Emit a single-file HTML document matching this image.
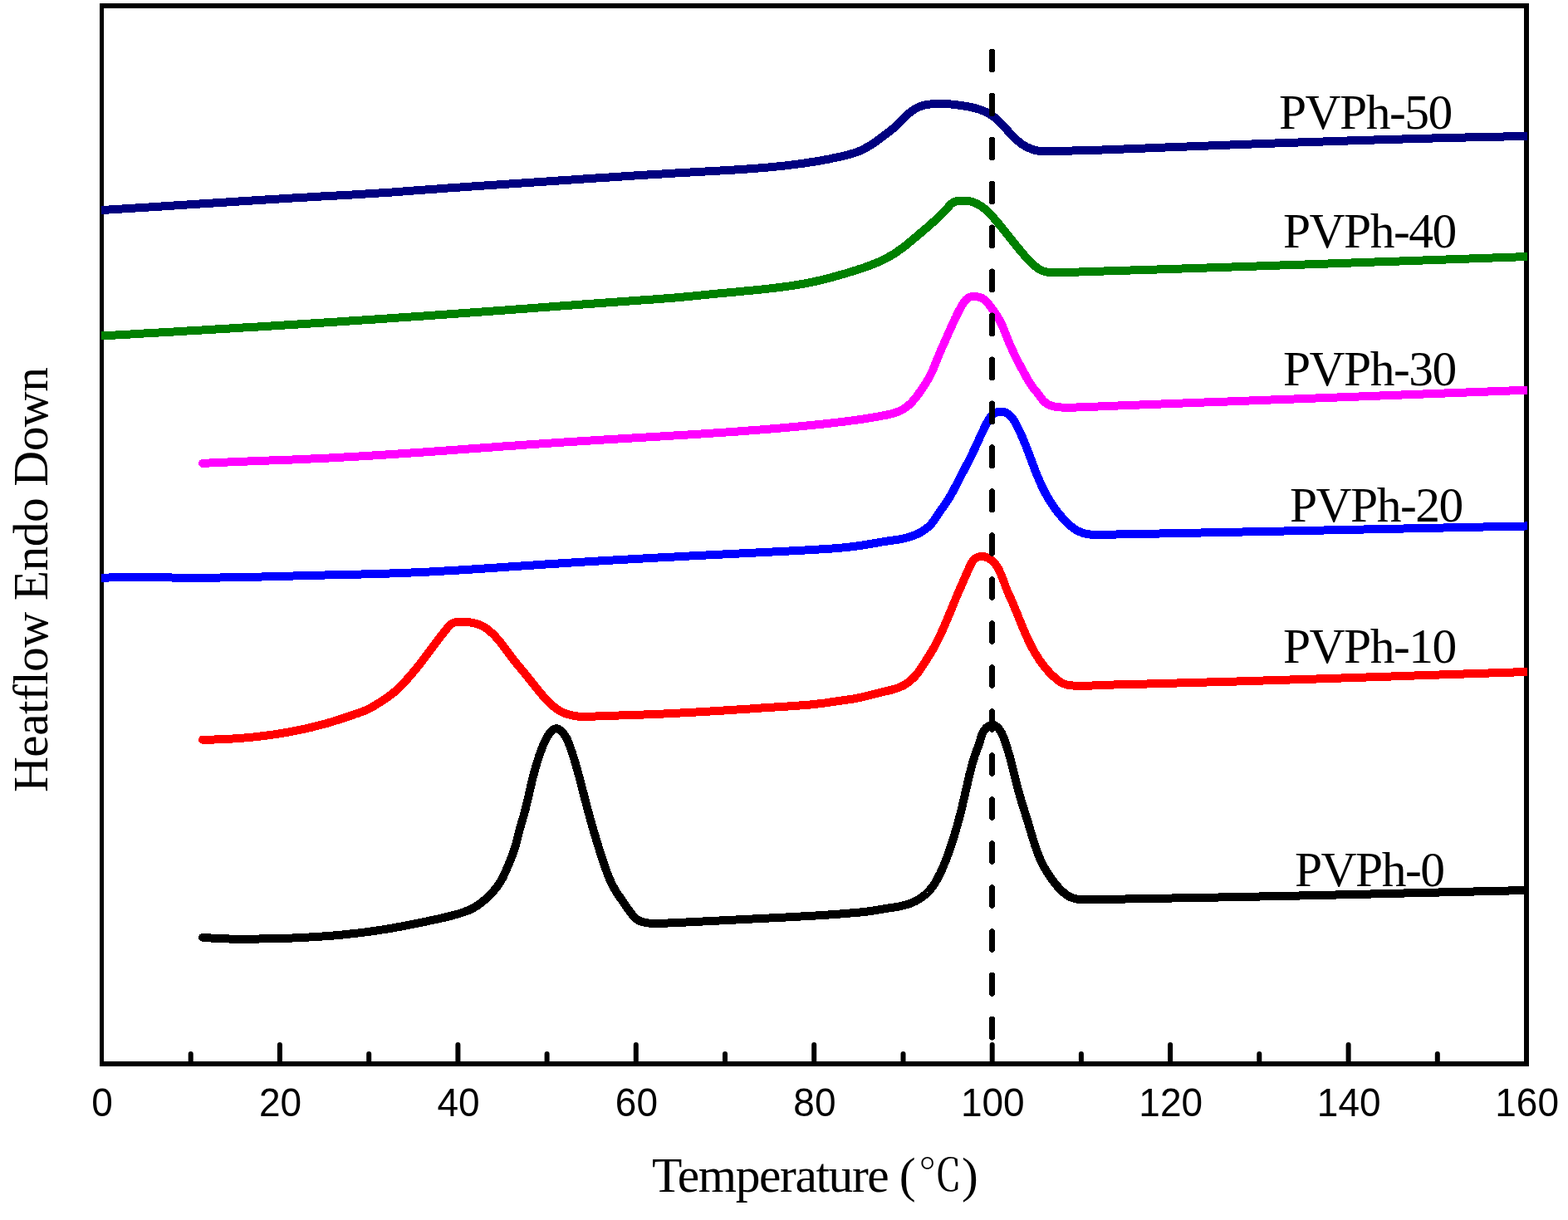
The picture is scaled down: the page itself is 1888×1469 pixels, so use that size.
<!DOCTYPE html>
<html><head><meta charset="utf-8"><style>
html,body{margin:0;padding:0;background:#fff;width:1888px;height:1469px;overflow:hidden}
svg{display:block}
.s{font-family:"Liberation Serif","Noto Serif CJK SC",serif;fill:#000}
.t{font-family:"Liberation Sans",sans-serif;fill:#000;font-size:46px;text-anchor:middle}
</style></head><body>
<svg width="1888" height="1469" viewBox="0 0 1888 1469">
<rect x="0" y="0" width="1888" height="1469" fill="#ffffff"/>
<defs><clipPath id="pc"><rect x="122" y="7" width="1717" height="1274"/></clipPath></defs>
<g fill="#000">
<rect x="120" y="4" width="1721" height="6"/>
<rect x="120" y="1278" width="1721" height="6"/>
<rect x="120" y="4" width="5" height="1280"/>
<rect x="1835" y="4" width="6" height="1280"/>
</g>
<g fill="none" stroke-width="10" stroke-linecap="round" stroke-linejoin="round" clip-path="url(#pc)" shape-rendering="crispEdges">
<path stroke="#000000" d="M244.0,1128.8 L246.0,1128.9 L248.0,1129.1 L250.0,1129.3 L252.0,1129.4 L254.0,1129.5 L256.0,1129.7 L258.0,1129.8 L260.0,1129.9 L262.0,1130.0 L264.0,1130.1 L266.0,1130.2 L268.0,1130.2 L270.0,1130.3 L272.0,1130.4 L274.0,1130.4 L276.0,1130.5 L278.0,1130.5 L280.0,1130.5 L282.0,1130.6 L284.0,1130.6 L286.0,1130.6 L287.9,1130.6 L289.9,1130.6 L291.9,1130.6 L293.9,1130.6 L295.9,1130.6 L297.9,1130.6 L299.9,1130.6 L301.9,1130.6 L303.9,1130.5 L305.9,1130.5 L307.9,1130.5 L309.9,1130.5 L311.9,1130.5 L313.9,1130.4 L315.9,1130.4 L317.9,1130.4 L319.9,1130.3 L321.9,1130.3 L323.9,1130.3 L325.9,1130.2 L327.9,1130.2 L329.9,1130.1 L331.9,1130.1 L333.9,1130.0 L335.9,1130.0 L337.9,1129.9 L339.9,1129.9 L341.9,1129.8 L343.9,1129.7 L345.9,1129.7 L347.9,1129.6 L349.9,1129.5 L351.9,1129.5 L353.9,1129.4 L355.9,1129.3 L357.9,1129.2 L359.9,1129.1 L361.9,1129.0 L363.9,1128.9 L365.9,1128.9 L367.9,1128.8 L369.9,1128.6 L371.9,1128.5 L373.9,1128.4 L375.9,1128.3 L377.9,1128.2 L379.9,1128.1 L381.9,1127.9 L383.9,1127.8 L385.9,1127.7 L387.9,1127.5 L389.9,1127.4 L391.9,1127.3 L393.9,1127.1 L395.9,1127.0 L397.9,1126.8 L399.9,1126.6 L401.8,1126.5 L403.8,1126.3 L405.8,1126.1 L407.8,1125.9 L409.8,1125.8 L411.8,1125.6 L413.8,1125.4 L415.8,1125.2 L417.8,1125.0 L419.8,1124.8 L421.7,1124.5 L423.7,1124.3 L425.7,1124.1 L427.7,1123.9 L429.7,1123.7 L431.7,1123.4 L433.7,1123.2 L435.6,1122.9 L437.6,1122.7 L439.6,1122.4 L441.6,1122.2 L443.6,1121.9 L445.6,1121.6 L447.5,1121.4 L449.5,1121.1 L451.5,1120.8 L453.5,1120.5 L455.5,1120.2 L457.4,1119.9 L459.4,1119.6 L461.4,1119.3 L463.4,1119.0 L465.3,1118.7 L467.3,1118.3 L469.3,1118.0 L471.2,1117.7 L473.2,1117.3 L475.2,1117.0 L477.2,1116.6 L479.1,1116.3 L481.1,1115.9 L483.1,1115.6 L485.0,1115.2 L487.0,1114.8 L489.0,1114.4 L490.9,1114.1 L492.9,1113.7 L494.9,1113.3 L496.8,1112.9 L498.8,1112.5 L500.7,1112.1 L502.7,1111.7 L504.7,1111.3 L506.6,1110.9 L508.6,1110.5 L510.5,1110.1 L512.5,1109.7 L514.4,1109.3 L516.4,1108.8 L518.4,1108.4 L520.3,1108.0 L522.3,1107.6 L524.2,1107.1 L526.2,1106.7 L528.1,1106.3 L530.1,1105.9 L532.0,1105.4 L534.0,1105.0 L535.9,1104.5 L537.9,1104.1 L539.8,1103.6 L541.7,1103.1 L543.7,1102.6 L545.6,1102.1 L547.5,1101.6 L549.5,1101.0 L551.4,1100.5 L553.3,1099.9 L555.2,1099.3 L557.1,1098.7 L559.0,1098.0 L560.9,1097.3 L562.8,1096.6 L564.6,1095.9 L566.5,1095.0 L568.3,1094.2 L570.0,1093.2 L571.8,1092.3 L573.5,1091.2 L575.1,1090.1 L576.8,1089.0 L578.4,1087.8 L580.0,1086.5 L581.5,1085.3 L583.1,1084.0 L584.6,1082.6 L586.1,1081.3 L587.5,1079.9 L589.0,1078.5 L590.4,1077.1 L591.8,1075.6 L593.1,1074.2 L594.4,1072.7 L595.7,1071.1 L597.0,1069.6 L598.2,1068.0 L599.4,1066.4 L600.5,1064.8 L601.6,1063.1 L602.7,1061.4 L603.7,1059.7 L604.7,1058.0 L605.6,1056.2 L606.5,1054.4 L607.3,1052.6 L608.2,1050.8 L609.0,1048.9 L609.8,1047.1 L610.6,1045.2 L611.4,1043.4 L612.2,1041.5 L612.9,1039.7 L613.7,1037.8 L614.5,1036.0 L615.2,1034.1 L615.9,1032.2 L616.7,1030.4 L617.4,1028.5 L618.0,1026.6 L618.7,1024.7 L619.3,1022.8 L619.9,1020.9 L620.5,1019.0 L621.0,1017.1 L621.6,1015.2 L622.1,1013.2 L622.5,1011.3 L623.0,1009.4 L623.5,1007.4 L624.0,1005.5 L624.5,1003.5 L625.0,1001.6 L625.5,999.7 L626.0,997.7 L626.6,995.8 L627.1,993.9 L627.7,992.0 L628.2,990.0 L628.8,988.1 L629.4,986.2 L629.9,984.3 L630.5,982.3 L631.0,980.4 L631.5,978.5 L632.0,976.6 L632.6,974.6 L633.0,972.7 L633.5,970.8 L634.0,968.8 L634.5,966.9 L634.9,964.9 L635.4,963.0 L635.8,961.0 L636.3,959.1 L636.7,957.1 L637.2,955.2 L637.6,953.2 L638.1,951.3 L638.5,949.3 L639.0,947.4 L639.4,945.4 L639.9,943.5 L640.4,941.5 L640.8,939.6 L641.3,937.6 L641.8,935.7 L642.3,933.8 L642.8,931.8 L643.3,929.9 L643.8,928.0 L644.4,926.0 L644.9,924.1 L645.4,922.2 L646.0,920.3 L646.6,918.4 L647.2,916.5 L647.8,914.6 L648.4,912.7 L649.0,910.8 L649.7,908.9 L650.3,907.0 L651.0,905.1 L651.7,903.3 L652.4,901.4 L653.1,899.6 L653.8,897.7 L654.6,895.9 L655.4,894.0 L656.3,892.2 L657.2,890.4 L658.1,888.6 L659.2,886.7 L660.4,884.9 L661.6,883.1 L663.0,881.4 L664.5,879.9 L666.0,878.6 L667.6,877.7 L669.2,877.3 L670.9,877.4 L672.6,878.0 L674.2,879.0 L675.8,880.3 L677.4,881.9 L678.8,883.6 L680.1,885.4 L681.2,887.2 L682.3,889.1 L683.2,890.9 L684.0,892.7 L684.7,894.6 L685.5,896.5 L686.1,898.3 L686.8,900.2 L687.4,902.1 L688.1,904.0 L688.7,905.8 L689.3,907.7 L689.9,909.6 L690.5,911.5 L691.1,913.4 L691.7,915.3 L692.3,917.3 L692.9,919.2 L693.4,921.1 L694.0,923.0 L694.5,924.9 L695.1,926.8 L695.6,928.8 L696.1,930.7 L696.6,932.6 L697.2,934.6 L697.7,936.5 L698.2,938.4 L698.7,940.4 L699.2,942.3 L699.7,944.2 L700.2,946.2 L700.7,948.1 L701.2,950.1 L701.7,952.0 L702.2,953.9 L702.7,955.9 L703.2,957.8 L703.7,959.8 L704.2,961.7 L704.7,963.6 L705.2,965.6 L705.7,967.5 L706.2,969.4 L706.7,971.4 L707.2,973.3 L707.8,975.2 L708.3,977.2 L708.8,979.1 L709.3,981.0 L709.9,982.9 L710.4,984.9 L710.9,986.8 L711.5,988.7 L712.0,990.6 L712.6,992.6 L713.1,994.5 L713.7,996.4 L714.2,998.3 L714.8,1000.2 L715.3,1002.2 L715.9,1004.1 L716.5,1006.0 L717.0,1007.9 L717.6,1009.8 L718.2,1011.7 L718.7,1013.7 L719.3,1015.6 L719.9,1017.5 L720.5,1019.4 L721.1,1021.3 L721.7,1023.2 L722.3,1025.1 L722.9,1027.0 L723.5,1028.9 L724.1,1030.8 L724.7,1032.8 L725.4,1034.7 L726.0,1036.6 L726.6,1038.5 L727.2,1040.4 L727.9,1042.3 L728.5,1044.2 L729.2,1046.1 L729.9,1048.0 L730.6,1049.8 L731.3,1051.7 L732.0,1053.6 L732.8,1055.4 L733.6,1057.3 L734.3,1059.1 L735.2,1060.9 L736.0,1062.7 L736.9,1064.5 L737.8,1066.3 L738.7,1068.1 L739.7,1069.8 L740.7,1071.5 L741.7,1073.2 L742.7,1074.9 L743.8,1076.6 L745.0,1078.3 L746.1,1079.9 L747.2,1081.6 L748.4,1083.2 L749.5,1084.9 L750.7,1086.5 L751.8,1088.1 L753.0,1089.8 L754.1,1091.4 L755.2,1093.1 L756.4,1094.7 L757.5,1096.3 L758.7,1098.0 L760.0,1099.6 L761.2,1101.2 L762.6,1102.8 L763.9,1104.2 L765.4,1105.6 L766.9,1106.9 L768.6,1108.0 L770.3,1108.9 L772.1,1109.6 L774.0,1110.2 L776.0,1110.7 L778.0,1111.1 L780.0,1111.4 L782.0,1111.6 L784.0,1111.8 L786.0,1111.9 L788.0,1111.9 L790.0,1111.9 L792.0,1111.9 L794.0,1111.9 L796.0,1111.8 L798.0,1111.7 L800.0,1111.7 L802.0,1111.6 L804.0,1111.5 L806.0,1111.4 L808.0,1111.3 L810.0,1111.2 L812.0,1111.2 L814.0,1111.1 L816.0,1111.0 L818.0,1110.9 L820.0,1110.8 L822.0,1110.7 L824.0,1110.6 L826.0,1110.5 L828.0,1110.4 L830.0,1110.3 L832.0,1110.2 L834.0,1110.1 L836.0,1110.0 L838.0,1109.9 L840.0,1109.8 L842.0,1109.7 L844.0,1109.6 L846.0,1109.5 L848.0,1109.4 L849.9,1109.3 L851.9,1109.2 L853.9,1109.1 L855.9,1109.0 L857.9,1108.9 L859.9,1108.8 L861.9,1108.7 L863.9,1108.6 L865.9,1108.5 L867.9,1108.4 L869.9,1108.3 L871.9,1108.2 L873.9,1108.1 L875.9,1108.0 L877.9,1107.9 L879.9,1107.8 L881.9,1107.7 L883.9,1107.6 L885.9,1107.5 L887.9,1107.4 L889.9,1107.3 L891.9,1107.2 L893.9,1107.1 L895.9,1107.0 L897.9,1106.9 L899.9,1106.8 L901.9,1106.7 L903.9,1106.6 L905.9,1106.5 L907.9,1106.4 L909.9,1106.3 L911.9,1106.2 L913.9,1106.1 L915.9,1106.0 L917.9,1105.9 L919.9,1105.8 L921.9,1105.7 L923.9,1105.6 L925.9,1105.5 L927.8,1105.4 L929.8,1105.3 L931.8,1105.2 L933.8,1105.1 L935.8,1105.0 L937.8,1104.9 L939.8,1104.8 L941.8,1104.7 L943.8,1104.6 L945.8,1104.5 L947.8,1104.4 L949.8,1104.3 L951.8,1104.2 L953.8,1104.1 L955.8,1104.0 L957.8,1103.9 L959.8,1103.8 L961.8,1103.7 L963.8,1103.5 L965.8,1103.4 L967.8,1103.3 L969.8,1103.2 L971.8,1103.1 L973.8,1103.0 L975.8,1102.9 L977.8,1102.8 L979.8,1102.6 L981.8,1102.5 L983.8,1102.4 L985.8,1102.3 L987.8,1102.2 L989.8,1102.0 L991.7,1101.9 L993.7,1101.8 L995.7,1101.6 L997.7,1101.5 L999.7,1101.4 L1001.7,1101.2 L1003.7,1101.1 L1005.7,1101.0 L1007.7,1100.8 L1009.7,1100.7 L1011.7,1100.5 L1013.7,1100.4 L1015.7,1100.2 L1017.7,1100.0 L1019.7,1099.9 L1021.7,1099.7 L1023.7,1099.5 L1025.6,1099.4 L1027.6,1099.2 L1029.6,1099.0 L1031.6,1098.8 L1033.6,1098.6 L1035.6,1098.5 L1037.6,1098.3 L1039.6,1098.1 L1041.6,1097.8 L1043.6,1097.6 L1045.6,1097.4 L1047.5,1097.1 L1049.5,1096.8 L1051.5,1096.5 L1053.5,1096.2 L1055.4,1095.9 L1057.4,1095.6 L1059.4,1095.2 L1061.3,1094.9 L1063.3,1094.6 L1065.3,1094.2 L1067.3,1093.9 L1069.2,1093.6 L1071.2,1093.3 L1073.2,1093.0 L1075.2,1092.7 L1077.2,1092.3 L1079.1,1092.0 L1081.1,1091.7 L1083.1,1091.3 L1085.0,1090.9 L1087.0,1090.5 L1088.9,1090.0 L1090.9,1089.5 L1092.8,1088.9 L1094.7,1088.3 L1096.5,1087.6 L1098.4,1086.8 L1100.2,1086.0 L1102.0,1085.2 L1103.8,1084.2 L1105.6,1083.2 L1107.3,1082.2 L1108.9,1081.1 L1110.6,1079.9 L1112.2,1078.7 L1113.7,1077.4 L1115.2,1076.1 L1116.7,1074.7 L1118.1,1073.3 L1119.4,1071.8 L1120.7,1070.3 L1122.0,1068.8 L1123.2,1067.2 L1124.3,1065.5 L1125.4,1063.8 L1126.5,1062.1 L1127.5,1060.4 L1128.4,1058.6 L1129.4,1056.9 L1130.3,1055.1 L1131.2,1053.3 L1132.1,1051.5 L1132.9,1049.7 L1133.8,1047.9 L1134.6,1046.0 L1135.4,1044.2 L1136.2,1042.4 L1136.9,1040.5 L1137.7,1038.7 L1138.4,1036.8 L1139.2,1035.0 L1139.9,1033.1 L1140.6,1031.2 L1141.3,1029.4 L1142.0,1027.5 L1142.6,1025.6 L1143.3,1023.7 L1143.9,1021.8 L1144.6,1019.9 L1145.2,1018.0 L1145.8,1016.1 L1146.5,1014.2 L1147.1,1012.3 L1147.7,1010.4 L1148.3,1008.5 L1148.9,1006.6 L1149.5,1004.7 L1150.0,1002.8 L1150.6,1000.9 L1151.2,998.9 L1151.7,997.0 L1152.3,995.1 L1152.8,993.2 L1153.4,991.2 L1153.9,989.3 L1154.4,987.4 L1154.9,985.4 L1155.4,983.5 L1156.0,981.6 L1156.4,979.6 L1156.9,977.7 L1157.4,975.8 L1157.9,973.8 L1158.4,971.9 L1158.8,969.9 L1159.3,968.0 L1159.7,966.0 L1160.2,964.1 L1160.6,962.1 L1161.1,960.2 L1161.5,958.2 L1161.9,956.3 L1162.4,954.3 L1162.8,952.4 L1163.3,950.4 L1163.7,948.5 L1164.2,946.5 L1164.6,944.6 L1165.0,942.7 L1165.5,940.7 L1165.9,938.8 L1166.4,936.8 L1166.9,934.9 L1167.3,932.9 L1167.8,931.0 L1168.3,929.0 L1168.8,927.1 L1169.3,925.1 L1169.8,923.2 L1170.3,921.3 L1170.9,919.3 L1171.4,917.4 L1172.0,915.5 L1172.6,913.6 L1173.2,911.7 L1173.8,909.8 L1174.5,907.9 L1175.1,906.0 L1175.8,904.2 L1176.5,902.3 L1177.2,900.5 L1177.9,898.6 L1178.5,896.7 L1179.2,894.8 L1179.8,892.9 L1180.3,891.0 L1180.9,889.0 L1181.5,887.1 L1182.1,885.2 L1182.9,883.3 L1183.8,881.4 L1185.0,879.5 L1186.3,877.8 L1187.8,876.2 L1189.4,874.8 L1191.1,873.8 L1192.9,873.0 L1194.7,872.7 L1196.4,872.9 L1198.1,873.6 L1199.7,874.7 L1201.3,876.0 L1202.7,877.6 L1204.0,879.4 L1205.2,881.2 L1206.2,883.0 L1207.1,884.9 L1207.9,886.7 L1208.7,888.6 L1209.4,890.5 L1210.0,892.4 L1210.6,894.3 L1211.3,896.2 L1211.9,898.1 L1212.5,900.0 L1213.1,901.9 L1213.6,903.8 L1214.2,905.7 L1214.8,907.6 L1215.3,909.5 L1215.9,911.4 L1216.4,913.4 L1216.9,915.3 L1217.4,917.2 L1217.9,919.1 L1218.4,921.1 L1218.9,923.0 L1219.4,924.9 L1219.9,926.9 L1220.4,928.8 L1220.9,930.8 L1221.4,932.7 L1221.8,934.7 L1222.3,936.6 L1222.8,938.6 L1223.3,940.5 L1223.8,942.5 L1224.3,944.4 L1224.7,946.3 L1225.2,948.3 L1225.8,950.2 L1226.3,952.2 L1226.8,954.1 L1227.3,956.0 L1227.9,957.9 L1228.4,959.9 L1229.0,961.8 L1229.5,963.7 L1230.1,965.6 L1230.7,967.5 L1231.3,969.4 L1231.9,971.3 L1232.5,973.2 L1233.1,975.1 L1233.7,977.0 L1234.3,978.9 L1234.9,980.8 L1235.5,982.7 L1236.1,984.6 L1236.7,986.5 L1237.3,988.4 L1237.9,990.4 L1238.4,992.3 L1239.0,994.2 L1239.6,996.1 L1240.1,998.1 L1240.7,1000.0 L1241.3,1001.9 L1241.8,1003.8 L1242.4,1005.8 L1243.0,1007.7 L1243.6,1009.6 L1244.1,1011.5 L1244.8,1013.4 L1245.4,1015.3 L1246.0,1017.2 L1246.6,1019.1 L1247.3,1021.0 L1247.9,1022.9 L1248.6,1024.8 L1249.3,1026.7 L1250.0,1028.5 L1250.8,1030.4 L1251.5,1032.2 L1252.3,1034.1 L1253.1,1035.9 L1254.0,1037.7 L1254.8,1039.5 L1255.7,1041.3 L1256.6,1043.0 L1257.6,1044.8 L1258.6,1046.5 L1259.6,1048.2 L1260.6,1049.9 L1261.6,1051.6 L1262.7,1053.3 L1263.9,1055.0 L1265.0,1056.6 L1266.2,1058.3 L1267.4,1059.9 L1268.6,1061.5 L1269.8,1063.1 L1271.1,1064.6 L1272.4,1066.2 L1273.7,1067.7 L1275.1,1069.2 L1276.5,1070.7 L1277.9,1072.1 L1279.4,1073.5 L1280.9,1074.9 L1282.4,1076.1 L1284.0,1077.3 L1285.6,1078.4 L1287.3,1079.4 L1289.1,1080.3 L1290.9,1081.0 L1292.8,1081.6 L1294.7,1082.1 L1296.7,1082.5 L1298.7,1082.7 L1300.7,1082.9 L1302.8,1083.0 L1304.8,1083.1 L1306.8,1083.2 L1308.8,1083.2 L1310.8,1083.2 L1312.8,1083.1 L1314.8,1083.1 L1316.8,1083.1 L1318.8,1083.1 L1320.8,1083.0 L1322.8,1083.0 L1324.8,1083.0 L1326.8,1082.9 L1328.8,1082.9 L1330.8,1082.9 L1332.8,1082.8 L1334.8,1082.8 L1336.8,1082.8 L1338.8,1082.7 L1340.8,1082.7 L1342.8,1082.7 L1344.8,1082.6 L1346.8,1082.6 L1348.8,1082.6 L1350.8,1082.5 L1352.8,1082.5 L1354.8,1082.5 L1356.8,1082.4 L1358.8,1082.4 L1360.8,1082.4 L1362.8,1082.3 L1364.8,1082.3 L1366.8,1082.2 L1368.8,1082.2 L1370.8,1082.2 L1372.8,1082.1 L1374.8,1082.1 L1376.8,1082.1 L1378.8,1082.0 L1380.8,1082.0 L1382.8,1082.0 L1384.8,1081.9 L1386.8,1081.9 L1388.8,1081.9 L1390.8,1081.8 L1392.8,1081.8 L1394.8,1081.8 L1396.8,1081.7 L1398.8,1081.7 L1400.8,1081.6 L1402.8,1081.6 L1404.8,1081.6 L1406.8,1081.5 L1408.8,1081.5 L1410.8,1081.5 L1412.8,1081.4 L1414.8,1081.4 L1416.8,1081.4 L1418.8,1081.3 L1420.8,1081.3 L1422.8,1081.3 L1424.8,1081.2 L1426.8,1081.2 L1428.8,1081.1 L1430.8,1081.1 L1432.8,1081.1 L1434.8,1081.0 L1436.8,1081.0 L1438.8,1081.0 L1440.8,1080.9 L1442.8,1080.9 L1444.8,1080.9 L1446.8,1080.8 L1448.8,1080.8 L1450.8,1080.7 L1452.8,1080.7 L1454.8,1080.7 L1456.8,1080.6 L1458.8,1080.6 L1460.8,1080.6 L1462.8,1080.5 L1464.8,1080.5 L1466.8,1080.5 L1468.8,1080.4 L1470.8,1080.4 L1472.8,1080.3 L1474.8,1080.3 L1476.8,1080.3 L1478.8,1080.2 L1480.8,1080.2 L1482.8,1080.1 L1484.7,1080.1 L1486.7,1080.1 L1488.7,1080.0 L1490.7,1080.0 L1492.7,1080.0 L1494.7,1079.9 L1496.7,1079.9 L1498.7,1079.8 L1500.7,1079.8 L1502.7,1079.8 L1504.7,1079.7 L1506.7,1079.7 L1508.7,1079.6 L1510.7,1079.6 L1512.7,1079.6 L1514.7,1079.5 L1516.7,1079.5 L1518.7,1079.4 L1520.7,1079.4 L1522.7,1079.4 L1524.7,1079.3 L1526.7,1079.3 L1528.7,1079.2 L1530.7,1079.2 L1532.7,1079.1 L1534.7,1079.1 L1536.7,1079.1 L1538.7,1079.0 L1540.7,1079.0 L1542.7,1078.9 L1544.7,1078.9 L1546.7,1078.8 L1548.7,1078.8 L1550.7,1078.8 L1552.7,1078.7 L1554.7,1078.7 L1556.7,1078.6 L1558.7,1078.6 L1560.7,1078.5 L1562.7,1078.5 L1564.7,1078.5 L1566.7,1078.4 L1568.7,1078.4 L1570.7,1078.3 L1572.7,1078.3 L1574.7,1078.2 L1576.7,1078.2 L1578.7,1078.1 L1580.7,1078.1 L1582.7,1078.0 L1584.7,1078.0 L1586.7,1078.0 L1588.7,1077.9 L1590.7,1077.9 L1592.7,1077.8 L1594.7,1077.8 L1596.7,1077.7 L1598.7,1077.7 L1600.7,1077.6 L1602.7,1077.6 L1604.7,1077.5 L1606.7,1077.5 L1608.7,1077.5 L1610.7,1077.4 L1612.7,1077.4 L1614.7,1077.3 L1616.7,1077.3 L1618.7,1077.2 L1620.7,1077.2 L1622.7,1077.1 L1624.7,1077.1 L1626.7,1077.0 L1628.7,1077.0 L1630.7,1076.9 L1632.7,1076.9 L1634.7,1076.8 L1636.7,1076.8 L1638.7,1076.7 L1640.7,1076.7 L1642.7,1076.6 L1644.7,1076.6 L1646.7,1076.5 L1648.7,1076.5 L1650.7,1076.5 L1652.7,1076.4 L1654.7,1076.4 L1656.7,1076.3 L1658.7,1076.3 L1660.7,1076.2 L1662.7,1076.2 L1664.7,1076.1 L1666.7,1076.1 L1668.7,1076.0 L1670.7,1076.0 L1672.7,1075.9 L1674.7,1075.9 L1676.7,1075.8 L1678.7,1075.8 L1680.7,1075.7 L1682.7,1075.7 L1684.7,1075.6 L1686.7,1075.6 L1688.7,1075.5 L1690.7,1075.5 L1692.7,1075.4 L1694.7,1075.4 L1696.7,1075.3 L1698.7,1075.3 L1700.7,1075.2 L1702.7,1075.2 L1704.7,1075.1 L1706.7,1075.1 L1708.7,1075.0 L1710.7,1075.0 L1712.7,1075.0 L1714.7,1074.9 L1716.7,1074.9 L1718.7,1074.8 L1720.7,1074.8 L1722.7,1074.7 L1724.7,1074.7 L1726.7,1074.6 L1728.7,1074.6 L1730.7,1074.5 L1732.7,1074.5 L1734.7,1074.4 L1736.7,1074.4 L1738.7,1074.3 L1740.7,1074.3 L1742.7,1074.2 L1744.7,1074.2 L1746.7,1074.1 L1748.7,1074.1 L1750.7,1074.0 L1752.7,1074.0 L1754.7,1073.9 L1756.7,1073.9 L1758.7,1073.8 L1760.7,1073.8 L1762.7,1073.7 L1764.7,1073.7 L1766.7,1073.6 L1768.7,1073.6 L1770.7,1073.6 L1772.7,1073.5 L1774.7,1073.5 L1776.7,1073.4 L1778.7,1073.4 L1780.7,1073.3 L1782.7,1073.3 L1784.7,1073.2 L1786.7,1073.2 L1788.7,1073.1 L1790.7,1073.1 L1792.7,1073.0 L1794.7,1073.0 L1796.7,1072.9 L1798.7,1072.9 L1800.7,1072.9 L1802.7,1072.8 L1804.7,1072.8 L1806.7,1072.7 L1808.7,1072.7 L1810.7,1072.6 L1812.7,1072.6 L1814.7,1072.5 L1816.7,1072.5 L1818.7,1072.4 L1820.7,1072.4 L1822.7,1072.3 L1824.7,1072.3 L1826.7,1072.3 L1828.7,1072.2 L1830.7,1072.2 L1832.7,1072.1 L1834.7,1072.1 L1836.7,1072.0 L1838.7,1072.0 L1840.7,1071.9 L1842.7,1071.9 L1844.7,1071.9 L1846.7,1071.8 L1848.7,1071.8 L1850.7,1071.7 L1852.7,1071.7 L1854.7,1071.6 L1855.0,1071.6"/>
<path stroke="#ff0000" d="M244.0,890.7 L246.0,890.7 L248.0,890.6 L250.0,890.6 L252.0,890.6 L254.0,890.6 L256.0,890.5 L258.0,890.5 L260.0,890.4 L262.0,890.4 L264.0,890.3 L266.0,890.2 L268.0,890.2 L270.0,890.1 L272.0,890.0 L274.0,889.9 L276.0,889.8 L278.0,889.7 L280.0,889.5 L282.0,889.4 L284.0,889.3 L286.0,889.1 L288.0,889.0 L289.9,888.8 L291.9,888.7 L293.9,888.5 L295.9,888.3 L297.9,888.1 L299.9,888.0 L301.9,887.8 L303.9,887.6 L305.9,887.4 L307.9,887.1 L309.9,886.9 L311.8,886.7 L313.8,886.5 L315.8,886.2 L317.8,886.0 L319.8,885.7 L321.8,885.5 L323.7,885.2 L325.7,884.9 L327.7,884.7 L329.7,884.4 L331.7,884.1 L333.6,883.8 L335.6,883.5 L337.6,883.2 L339.6,882.8 L341.5,882.5 L343.5,882.2 L345.5,881.8 L347.4,881.5 L349.4,881.1 L351.4,880.8 L353.3,880.4 L355.3,880.0 L357.3,879.6 L359.2,879.2 L361.2,878.8 L363.2,878.4 L365.1,878.0 L367.1,877.6 L369.0,877.1 L371.0,876.7 L372.9,876.2 L374.9,875.8 L376.8,875.3 L378.7,874.8 L380.7,874.3 L382.6,873.8 L384.6,873.3 L386.5,872.8 L388.4,872.3 L390.3,871.8 L392.3,871.2 L394.2,870.7 L396.1,870.1 L398.0,869.6 L399.9,869.0 L401.9,868.4 L403.8,867.8 L405.7,867.2 L407.6,866.6 L409.5,866.0 L411.4,865.3 L413.3,864.7 L415.2,864.1 L417.1,863.4 L419.0,862.8 L420.9,862.2 L422.8,861.5 L424.7,860.9 L426.5,860.2 L428.4,859.6 L430.3,859.0 L432.2,858.3 L434.1,857.6 L436.0,857.0 L437.9,856.2 L439.7,855.5 L441.5,854.7 L443.3,853.8 L445.1,852.9 L446.9,852.0 L448.6,851.0 L450.4,850.0 L452.1,848.9 L453.8,847.9 L455.5,846.8 L457.2,845.8 L458.9,844.7 L460.6,843.6 L462.2,842.5 L463.9,841.4 L465.5,840.2 L467.2,839.1 L468.8,837.9 L470.4,836.7 L472.0,835.5 L473.6,834.3 L475.1,833.0 L476.6,831.7 L478.1,830.3 L479.5,829.0 L481.0,827.6 L482.4,826.1 L483.8,824.7 L485.2,823.3 L486.6,821.8 L487.9,820.4 L489.3,818.9 L490.6,817.4 L491.9,815.9 L493.3,814.4 L494.6,812.9 L495.9,811.4 L497.1,809.9 L498.4,808.4 L499.7,806.8 L501.0,805.3 L502.2,803.7 L503.5,802.1 L504.7,800.6 L506.0,799.0 L507.2,797.4 L508.4,795.8 L509.6,794.2 L510.9,792.6 L512.1,791.0 L513.3,789.4 L514.5,787.8 L515.7,786.2 L516.9,784.6 L518.1,783.0 L519.3,781.4 L520.5,779.9 L521.6,778.3 L522.8,776.7 L524.0,775.1 L525.2,773.5 L526.4,771.9 L527.6,770.3 L528.8,768.7 L530.0,767.1 L531.3,765.5 L532.5,763.9 L533.7,762.3 L535.0,760.7 L536.3,759.2 L537.6,757.6 L538.9,756.0 L540.2,754.4 L541.6,753.0 L543.1,751.7 L544.7,750.7 L546.4,749.8 L548.2,749.3 L550.2,748.9 L552.2,748.8 L554.3,748.7 L556.3,748.7 L558.4,748.8 L560.4,748.9 L562.5,749.0 L564.5,749.2 L566.5,749.5 L568.5,749.8 L570.5,750.2 L572.4,750.7 L574.3,751.2 L576.2,751.9 L578.1,752.6 L579.9,753.4 L581.6,754.3 L583.3,755.3 L585.0,756.4 L586.7,757.5 L588.3,758.8 L589.8,760.0 L591.3,761.4 L592.8,762.7 L594.3,764.1 L595.7,765.6 L597.1,767.1 L598.4,768.6 L599.7,770.1 L601.0,771.6 L602.3,773.2 L603.5,774.8 L604.7,776.4 L606.0,778.0 L607.1,779.6 L608.3,781.2 L609.5,782.8 L610.7,784.4 L611.9,786.0 L613.1,787.6 L614.3,789.2 L615.5,790.8 L616.7,792.4 L618.0,793.9 L619.2,795.5 L620.5,797.0 L621.7,798.6 L623.0,800.1 L624.3,801.7 L625.6,803.2 L626.9,804.7 L628.1,806.3 L629.4,807.8 L630.7,809.3 L632.0,810.9 L633.2,812.4 L634.5,814.0 L635.7,815.6 L637.0,817.1 L638.2,818.7 L639.4,820.3 L640.7,821.9 L641.9,823.4 L643.2,825.0 L644.4,826.6 L645.6,828.2 L646.9,829.7 L648.2,831.3 L649.4,832.8 L650.7,834.4 L652.0,835.9 L653.3,837.4 L654.6,838.9 L656.0,840.4 L657.3,841.8 L658.7,843.3 L660.1,844.7 L661.6,846.1 L663.0,847.5 L664.5,848.8 L666.0,850.1 L667.6,851.4 L669.1,852.6 L670.8,853.8 L672.4,854.9 L674.1,855.9 L675.8,856.9 L677.6,857.8 L679.5,858.6 L681.3,859.3 L683.3,859.9 L685.2,860.5 L687.2,861.0 L689.1,861.4 L691.1,861.9 L693.1,862.2 L695.1,862.5 L697.0,862.7 L699.0,862.9 L701.0,863.0 L703.0,863.1 L705.0,863.1 L707.0,863.1 L709.0,863.0 L711.0,862.9 L713.0,862.8 L715.0,862.7 L717.0,862.5 L719.0,862.4 L721.0,862.3 L723.0,862.2 L725.0,862.1 L727.0,862.0 L729.0,861.9 L731.0,861.9 L733.0,861.8 L735.0,861.7 L737.0,861.7 L739.0,861.6 L741.0,861.6 L743.0,861.5 L745.0,861.5 L747.0,861.4 L749.0,861.4 L751.0,861.3 L753.0,861.3 L755.0,861.2 L757.0,861.1 L759.0,861.1 L761.0,861.0 L763.0,860.9 L765.0,860.9 L767.0,860.8 L769.0,860.7 L771.0,860.6 L773.0,860.6 L774.9,860.5 L776.9,860.4 L778.9,860.3 L780.9,860.2 L782.9,860.2 L784.9,860.1 L786.9,860.0 L788.9,859.9 L790.9,859.8 L792.9,859.7 L794.9,859.7 L796.9,859.6 L798.9,859.5 L800.9,859.4 L802.9,859.3 L804.9,859.2 L806.9,859.1 L808.9,859.0 L810.9,858.9 L812.9,858.8 L814.9,858.7 L816.9,858.6 L818.9,858.5 L820.9,858.4 L822.9,858.3 L824.9,858.2 L826.9,858.1 L828.9,858.0 L830.9,857.9 L832.9,857.8 L834.9,857.7 L836.9,857.6 L838.9,857.4 L840.9,857.3 L842.9,857.2 L844.9,857.1 L846.9,857.0 L848.9,856.9 L850.9,856.8 L852.9,856.6 L854.9,856.5 L856.8,856.4 L858.8,856.3 L860.8,856.2 L862.8,856.0 L864.8,855.9 L866.8,855.8 L868.8,855.7 L870.8,855.6 L872.8,855.4 L874.8,855.3 L876.8,855.2 L878.8,855.1 L880.8,854.9 L882.8,854.8 L884.8,854.7 L886.8,854.5 L888.8,854.4 L890.8,854.3 L892.8,854.1 L894.8,854.0 L896.8,853.9 L898.8,853.8 L900.8,853.6 L902.8,853.5 L904.7,853.4 L906.7,853.2 L908.7,853.1 L910.7,852.9 L912.7,852.8 L914.7,852.7 L916.7,852.5 L918.7,852.4 L920.7,852.3 L922.7,852.1 L924.7,852.0 L926.7,851.9 L928.7,851.7 L930.7,851.6 L932.7,851.5 L934.7,851.3 L936.7,851.2 L938.7,851.1 L940.7,851.0 L942.7,850.8 L944.7,850.7 L946.7,850.6 L948.7,850.5 L950.7,850.3 L952.7,850.2 L954.6,850.1 L956.6,849.9 L958.6,849.8 L960.6,849.7 L962.6,849.5 L964.6,849.4 L966.6,849.2 L968.6,849.1 L970.6,848.9 L972.6,848.7 L974.6,848.6 L976.6,848.4 L978.6,848.2 L980.6,848.0 L982.5,847.8 L984.5,847.5 L986.5,847.3 L988.5,847.1 L990.5,846.8 L992.5,846.6 L994.4,846.3 L996.4,846.0 L998.4,845.7 L1000.4,845.4 L1002.4,845.1 L1004.3,844.9 L1006.3,844.6 L1008.3,844.3 L1010.3,844.0 L1012.3,843.7 L1014.2,843.4 L1016.2,843.1 L1018.2,842.9 L1020.2,842.6 L1022.2,842.3 L1024.1,842.0 L1026.1,841.7 L1028.1,841.3 L1030.1,841.0 L1032.0,840.6 L1034.0,840.2 L1035.9,839.8 L1037.9,839.4 L1039.8,838.9 L1041.8,838.5 L1043.7,838.0 L1045.7,837.5 L1047.6,837.0 L1049.5,836.5 L1051.5,836.0 L1053.4,835.5 L1055.3,835.0 L1057.3,834.5 L1059.2,834.0 L1061.2,833.6 L1063.1,833.1 L1065.1,832.7 L1067.0,832.2 L1069.0,831.8 L1070.9,831.3 L1072.9,830.8 L1074.8,830.3 L1076.7,829.8 L1078.6,829.2 L1080.5,828.5 L1082.4,827.8 L1084.2,827.0 L1086.0,826.2 L1087.8,825.3 L1089.5,824.3 L1091.3,823.2 L1092.9,822.1 L1094.5,820.9 L1096.1,819.6 L1097.6,818.3 L1099.1,816.9 L1100.5,815.5 L1101.9,814.1 L1103.2,812.6 L1104.5,811.0 L1105.7,809.4 L1106.9,807.8 L1108.0,806.2 L1109.1,804.5 L1110.2,802.8 L1111.3,801.2 L1112.4,799.5 L1113.5,797.8 L1114.6,796.1 L1115.6,794.4 L1116.7,792.7 L1117.8,791.0 L1118.9,789.3 L1119.9,787.6 L1120.9,785.9 L1122.0,784.2 L1123.0,782.5 L1123.9,780.7 L1124.9,779.0 L1125.9,777.2 L1126.8,775.5 L1127.7,773.7 L1128.6,771.9 L1129.5,770.2 L1130.4,768.4 L1131.2,766.6 L1132.1,764.8 L1133.0,762.9 L1133.8,761.1 L1134.6,759.3 L1135.4,757.5 L1136.3,755.6 L1137.1,753.8 L1137.9,752.0 L1138.6,750.1 L1139.4,748.3 L1140.2,746.4 L1141.0,744.6 L1141.8,742.7 L1142.5,740.9 L1143.3,739.0 L1144.1,737.1 L1144.8,735.3 L1145.6,733.4 L1146.4,731.6 L1147.1,729.7 L1147.9,727.9 L1148.6,726.0 L1149.4,724.2 L1150.2,722.4 L1150.9,720.5 L1151.7,718.7 L1152.5,716.9 L1153.2,715.1 L1154.0,713.2 L1154.8,711.4 L1155.6,709.6 L1156.4,707.8 L1157.2,706.0 L1158.0,704.1 L1158.8,702.3 L1159.6,700.5 L1160.4,698.7 L1161.2,696.8 L1162.0,695.0 L1162.8,693.1 L1163.7,691.3 L1164.5,689.4 L1165.3,687.5 L1166.2,685.6 L1167.0,683.7 L1167.9,681.8 L1168.8,680.0 L1169.7,678.2 L1170.8,676.4 L1171.9,674.9 L1173.2,673.5 L1174.7,672.2 L1176.3,671.3 L1178.1,670.5 L1180.0,670.1 L1182.0,670.0 L1184.0,670.1 L1186.0,670.5 L1188.0,671.2 L1190.0,672.0 L1191.8,673.1 L1193.5,674.2 L1195.1,675.5 L1196.5,676.9 L1197.9,678.4 L1199.1,680.0 L1200.2,681.7 L1201.3,683.4 L1202.3,685.1 L1203.2,686.9 L1204.0,688.7 L1204.9,690.5 L1205.6,692.4 L1206.4,694.2 L1207.1,696.1 L1207.8,698.0 L1208.5,699.8 L1209.2,701.7 L1209.8,703.6 L1210.5,705.5 L1211.2,707.4 L1212.0,709.2 L1212.7,711.1 L1213.5,712.9 L1214.3,714.7 L1215.1,716.6 L1216.0,718.4 L1216.8,720.2 L1217.6,722.0 L1218.4,723.9 L1219.2,725.7 L1220.0,727.6 L1220.8,729.4 L1221.5,731.2 L1222.3,733.1 L1223.0,734.9 L1223.8,736.8 L1224.6,738.6 L1225.3,740.5 L1226.1,742.4 L1226.8,744.2 L1227.5,746.1 L1228.3,747.9 L1229.1,749.8 L1229.8,751.6 L1230.6,753.5 L1231.3,755.3 L1232.1,757.2 L1232.9,759.0 L1233.7,760.8 L1234.5,762.7 L1235.3,764.5 L1236.1,766.3 L1236.9,768.1 L1237.8,770.0 L1238.6,771.8 L1239.5,773.6 L1240.4,775.4 L1241.3,777.1 L1242.2,778.9 L1243.2,780.7 L1244.1,782.4 L1245.1,784.2 L1246.1,785.9 L1247.1,787.6 L1248.2,789.4 L1249.2,791.0 L1250.3,792.7 L1251.4,794.4 L1252.5,796.0 L1253.7,797.7 L1254.9,799.3 L1256.1,800.9 L1257.3,802.4 L1258.6,804.0 L1259.8,805.5 L1261.2,807.0 L1262.5,808.5 L1263.9,810.0 L1265.3,811.4 L1266.7,812.8 L1268.2,814.2 L1269.7,815.6 L1271.2,816.9 L1272.7,818.2 L1274.3,819.5 L1276.0,820.6 L1277.6,821.7 L1279.4,822.7 L1281.2,823.4 L1283.1,824.1 L1285.0,824.6 L1286.9,824.9 L1288.9,825.2 L1290.9,825.4 L1292.9,825.6 L1295.0,825.7 L1297.0,825.8 L1299.0,825.9 L1301.0,825.9 L1303.0,825.9 L1305.0,825.9 L1307.0,825.8 L1309.0,825.8 L1311.0,825.7 L1313.0,825.6 L1315.0,825.5 L1317.0,825.4 L1319.0,825.3 L1320.9,825.2 L1322.9,825.1 L1324.9,825.0 L1326.9,824.9 L1328.9,824.9 L1330.9,824.8 L1332.9,824.7 L1334.9,824.6 L1336.9,824.6 L1338.9,824.5 L1340.9,824.5 L1342.9,824.4 L1344.9,824.4 L1346.9,824.3 L1348.9,824.3 L1350.9,824.2 L1352.9,824.2 L1354.9,824.1 L1356.9,824.1 L1358.9,824.0 L1360.9,824.0 L1362.9,823.9 L1364.9,823.9 L1366.9,823.8 L1368.9,823.8 L1370.9,823.7 L1372.9,823.7 L1374.9,823.6 L1376.9,823.6 L1378.9,823.5 L1380.9,823.5 L1382.9,823.4 L1384.9,823.3 L1386.9,823.3 L1388.9,823.2 L1390.9,823.2 L1392.9,823.1 L1394.9,823.1 L1396.9,823.0 L1398.9,823.0 L1400.9,822.9 L1402.9,822.9 L1404.9,822.8 L1406.9,822.8 L1408.9,822.7 L1410.9,822.7 L1412.9,822.6 L1414.9,822.6 L1416.9,822.5 L1418.9,822.4 L1420.9,822.4 L1422.9,822.3 L1424.9,822.3 L1426.9,822.2 L1428.9,822.2 L1430.9,822.1 L1432.9,822.1 L1434.9,822.0 L1436.9,821.9 L1438.9,821.9 L1440.9,821.8 L1442.9,821.8 L1444.9,821.7 L1446.9,821.7 L1448.9,821.6 L1450.9,821.6 L1452.9,821.5 L1454.9,821.4 L1456.9,821.4 L1458.9,821.3 L1460.9,821.3 L1462.9,821.2 L1464.9,821.2 L1466.9,821.1 L1468.9,821.0 L1470.9,821.0 L1472.9,820.9 L1474.9,820.9 L1476.9,820.8 L1478.9,820.7 L1480.9,820.7 L1482.9,820.6 L1484.9,820.6 L1486.9,820.5 L1488.9,820.5 L1490.9,820.4 L1492.9,820.3 L1494.9,820.3 L1496.9,820.2 L1498.9,820.2 L1500.9,820.1 L1502.9,820.0 L1504.9,820.0 L1506.9,819.9 L1508.9,819.9 L1510.9,819.8 L1512.9,819.7 L1514.9,819.7 L1516.9,819.6 L1518.9,819.5 L1520.9,819.5 L1522.9,819.4 L1524.9,819.4 L1526.9,819.3 L1528.9,819.2 L1530.9,819.2 L1532.9,819.1 L1534.9,819.0 L1536.9,819.0 L1538.9,818.9 L1540.9,818.9 L1542.9,818.8 L1544.9,818.7 L1546.9,818.7 L1548.9,818.6 L1550.9,818.5 L1552.9,818.5 L1554.8,818.4 L1556.8,818.4 L1558.8,818.3 L1560.8,818.2 L1562.8,818.2 L1564.8,818.1 L1566.8,818.0 L1568.8,818.0 L1570.8,817.9 L1572.8,817.8 L1574.8,817.8 L1576.8,817.7 L1578.8,817.6 L1580.8,817.6 L1582.8,817.5 L1584.8,817.5 L1586.8,817.4 L1588.8,817.3 L1590.8,817.3 L1592.8,817.2 L1594.8,817.1 L1596.8,817.1 L1598.8,817.0 L1600.8,816.9 L1602.8,816.9 L1604.8,816.8 L1606.8,816.7 L1608.8,816.7 L1610.8,816.6 L1612.8,816.5 L1614.8,816.5 L1616.8,816.4 L1618.8,816.3 L1620.8,816.3 L1622.8,816.2 L1624.8,816.1 L1626.8,816.1 L1628.8,816.0 L1630.8,815.9 L1632.8,815.9 L1634.8,815.8 L1636.8,815.7 L1638.8,815.7 L1640.8,815.6 L1642.8,815.5 L1644.8,815.5 L1646.8,815.4 L1648.8,815.3 L1650.8,815.3 L1652.8,815.2 L1654.8,815.1 L1656.8,815.1 L1658.8,815.0 L1660.8,814.9 L1662.8,814.9 L1664.8,814.8 L1666.8,814.7 L1668.8,814.7 L1670.8,814.6 L1672.8,814.5 L1674.8,814.5 L1676.8,814.4 L1678.8,814.3 L1680.8,814.3 L1682.8,814.2 L1684.8,814.1 L1686.8,814.1 L1688.8,814.0 L1690.8,813.9 L1692.8,813.9 L1694.8,813.8 L1696.8,813.7 L1698.8,813.7 L1700.8,813.6 L1702.8,813.5 L1704.8,813.4 L1706.8,813.4 L1708.8,813.3 L1710.8,813.2 L1712.8,813.2 L1714.8,813.1 L1716.8,813.0 L1718.8,813.0 L1720.8,812.9 L1722.8,812.8 L1724.8,812.8 L1726.8,812.7 L1728.8,812.6 L1730.8,812.6 L1732.8,812.5 L1734.7,812.4 L1736.7,812.4 L1738.7,812.3 L1740.7,812.2 L1742.7,812.2 L1744.7,812.1 L1746.7,812.0 L1748.7,812.0 L1750.7,811.9 L1752.7,811.8 L1754.7,811.8 L1756.7,811.7 L1758.7,811.6 L1760.7,811.6 L1762.7,811.5 L1764.7,811.4 L1766.7,811.4 L1768.7,811.3 L1770.7,811.2 L1772.7,811.2 L1774.7,811.1 L1776.7,811.0 L1778.7,811.0 L1780.7,810.9 L1782.7,810.8 L1784.7,810.7 L1786.7,810.7 L1788.7,810.6 L1790.7,810.5 L1792.7,810.5 L1794.7,810.4 L1796.7,810.3 L1798.7,810.3 L1800.7,810.2 L1802.7,810.2 L1804.7,810.1 L1806.7,810.0 L1808.7,810.0 L1810.7,809.9 L1812.7,809.8 L1814.7,809.8 L1816.7,809.7 L1818.7,809.6 L1820.7,809.6 L1822.7,809.5 L1824.7,809.4 L1826.7,809.4 L1828.7,809.3 L1830.7,809.2 L1832.7,809.2 L1834.7,809.1 L1836.7,809.0 L1838.7,809.0 L1840.7,808.9 L1842.7,808.8 L1844.7,808.8 L1846.7,808.7 L1848.7,808.6 L1850.7,808.6 L1852.7,808.5 L1854.7,808.5 L1855.0,808.4"/>
<path stroke="#0000ff" d="M105.0,696.1 L107.0,696.0 L109.0,696.0 L111.0,695.9 L113.0,695.9 L115.0,695.8 L117.0,695.7 L119.0,695.7 L121.0,695.6 L123.0,695.6 L125.0,695.6 L127.0,695.5 L129.0,695.5 L131.0,695.5 L133.0,695.4 L135.0,695.4 L137.0,695.4 L139.0,695.4 L141.0,695.3 L143.0,695.3 L145.0,695.3 L147.0,695.3 L149.0,695.3 L151.0,695.3 L153.0,695.3 L155.0,695.2 L157.0,695.2 L159.0,695.2 L161.0,695.2 L163.0,695.2 L165.0,695.2 L167.0,695.2 L169.0,695.2 L171.0,695.2 L173.0,695.3 L175.0,695.3 L177.0,695.3 L179.0,695.3 L181.0,695.3 L183.0,695.3 L185.0,695.3 L187.0,695.3 L189.0,695.3 L191.0,695.3 L193.0,695.4 L195.0,695.4 L197.0,695.4 L199.0,695.4 L201.0,695.4 L203.0,695.4 L205.0,695.4 L207.0,695.5 L209.0,695.5 L211.0,695.5 L213.0,695.5 L215.0,695.5 L217.0,695.5 L219.0,695.5 L221.0,695.5 L223.0,695.5 L225.0,695.6 L227.0,695.6 L229.0,695.6 L231.0,695.6 L233.0,695.6 L235.0,695.6 L237.0,695.6 L239.0,695.6 L241.0,695.6 L243.0,695.6 L245.0,695.6 L247.0,695.6 L249.0,695.6 L251.0,695.6 L253.0,695.6 L255.0,695.5 L257.0,695.5 L259.0,695.5 L261.0,695.5 L263.0,695.5 L265.0,695.5 L267.0,695.4 L269.0,695.4 L271.0,695.4 L273.0,695.4 L275.0,695.3 L277.0,695.3 L279.0,695.3 L281.0,695.2 L283.0,695.2 L285.0,695.2 L287.0,695.1 L289.0,695.1 L291.0,695.0 L293.0,695.0 L295.0,695.0 L297.0,694.9 L299.0,694.9 L301.0,694.8 L303.0,694.8 L305.0,694.7 L307.0,694.7 L309.0,694.6 L311.0,694.6 L313.0,694.5 L315.0,694.5 L317.0,694.4 L319.0,694.4 L321.0,694.3 L323.0,694.3 L325.0,694.2 L327.0,694.2 L329.0,694.1 L331.0,694.1 L333.0,694.0 L335.0,694.0 L337.0,693.9 L339.0,693.9 L341.0,693.8 L343.0,693.7 L345.0,693.7 L347.0,693.6 L349.0,693.6 L351.0,693.5 L353.0,693.5 L355.0,693.4 L357.0,693.3 L359.0,693.3 L361.0,693.2 L363.0,693.2 L365.0,693.1 L367.0,693.1 L369.0,693.0 L371.0,693.0 L373.0,692.9 L375.0,692.9 L377.0,692.8 L379.0,692.8 L381.0,692.7 L383.0,692.7 L385.0,692.6 L387.0,692.6 L389.0,692.5 L391.0,692.5 L393.0,692.4 L394.9,692.4 L396.9,692.3 L398.9,692.3 L400.9,692.2 L402.9,692.2 L404.9,692.1 L406.9,692.1 L408.9,692.0 L410.9,692.0 L412.9,692.0 L414.9,691.9 L416.9,691.9 L418.9,691.8 L420.9,691.8 L422.9,691.7 L424.9,691.7 L426.9,691.6 L428.9,691.6 L430.9,691.5 L432.9,691.5 L434.9,691.5 L436.9,691.4 L438.9,691.4 L440.9,691.3 L442.9,691.3 L444.9,691.2 L446.9,691.1 L448.9,691.1 L450.9,691.0 L452.9,691.0 L454.9,690.9 L456.9,690.9 L458.9,690.8 L460.9,690.8 L462.9,690.7 L464.9,690.6 L466.9,690.6 L468.9,690.5 L470.9,690.4 L472.9,690.4 L474.9,690.3 L476.9,690.2 L478.9,690.1 L480.9,690.1 L482.9,690.0 L484.9,689.9 L486.9,689.8 L488.9,689.8 L490.9,689.7 L492.9,689.6 L494.9,689.5 L496.9,689.4 L498.9,689.3 L500.9,689.2 L502.9,689.1 L504.9,689.1 L506.9,689.0 L508.9,688.9 L510.9,688.8 L512.9,688.7 L514.9,688.6 L516.9,688.5 L518.9,688.4 L520.9,688.3 L522.9,688.2 L524.9,688.1 L526.9,688.0 L528.9,687.8 L530.9,687.7 L532.9,687.6 L534.8,687.5 L536.8,687.4 L538.8,687.3 L540.8,687.2 L542.8,687.1 L544.8,686.9 L546.8,686.8 L548.8,686.7 L550.8,686.6 L552.8,686.5 L554.8,686.3 L556.8,686.2 L558.8,686.1 L560.8,686.0 L562.8,685.8 L564.8,685.7 L566.8,685.6 L568.8,685.5 L570.8,685.3 L572.8,685.2 L574.8,685.1 L576.8,684.9 L578.8,684.8 L580.8,684.7 L582.8,684.6 L584.8,684.4 L586.7,684.3 L588.7,684.2 L590.7,684.0 L592.7,683.9 L594.7,683.8 L596.7,683.6 L598.7,683.5 L600.7,683.3 L602.7,683.2 L604.7,683.1 L606.7,682.9 L608.7,682.8 L610.7,682.7 L612.7,682.5 L614.7,682.4 L616.7,682.3 L618.7,682.1 L620.7,682.0 L622.7,681.8 L624.7,681.7 L626.7,681.6 L628.7,681.4 L630.6,681.3 L632.6,681.2 L634.6,681.0 L636.6,680.9 L638.6,680.8 L640.6,680.6 L642.6,680.5 L644.6,680.3 L646.6,680.2 L648.6,680.1 L650.6,679.9 L652.6,679.8 L654.6,679.7 L656.6,679.5 L658.6,679.4 L660.6,679.3 L662.6,679.1 L664.6,679.0 L666.6,678.9 L668.6,678.8 L670.6,678.6 L672.6,678.5 L674.5,678.4 L676.5,678.2 L678.5,678.1 L680.5,678.0 L682.5,677.9 L684.5,677.7 L686.5,677.6 L688.5,677.5 L690.5,677.4 L692.5,677.2 L694.5,677.1 L696.5,677.0 L698.5,676.9 L700.5,676.7 L702.5,676.6 L704.5,676.5 L706.5,676.4 L708.5,676.2 L710.5,676.1 L712.5,676.0 L714.5,675.9 L716.5,675.8 L718.5,675.7 L720.5,675.5 L722.5,675.4 L724.5,675.3 L726.4,675.2 L728.4,675.1 L730.4,674.9 L732.4,674.8 L734.4,674.7 L736.4,674.6 L738.4,674.5 L740.4,674.4 L742.4,674.3 L744.4,674.1 L746.4,674.0 L748.4,673.9 L750.4,673.8 L752.4,673.7 L754.4,673.6 L756.4,673.5 L758.4,673.4 L760.4,673.2 L762.4,673.1 L764.4,673.0 L766.4,672.9 L768.4,672.8 L770.4,672.7 L772.4,672.6 L774.4,672.5 L776.4,672.4 L778.4,672.3 L780.4,672.1 L782.4,672.0 L784.4,671.9 L786.4,671.8 L788.4,671.7 L790.3,671.6 L792.3,671.5 L794.3,671.4 L796.3,671.3 L798.3,671.2 L800.3,671.1 L802.3,671.0 L804.3,670.9 L806.3,670.8 L808.3,670.7 L810.3,670.6 L812.3,670.5 L814.3,670.3 L816.3,670.2 L818.3,670.1 L820.3,670.0 L822.3,669.9 L824.3,669.8 L826.3,669.7 L828.3,669.6 L830.3,669.5 L832.3,669.4 L834.3,669.3 L836.3,669.2 L838.3,669.1 L840.3,669.0 L842.3,668.9 L844.3,668.8 L846.3,668.7 L848.3,668.6 L850.3,668.5 L852.3,668.4 L854.3,668.3 L856.3,668.2 L858.3,668.1 L860.3,668.0 L862.3,667.9 L864.3,667.8 L866.2,667.7 L868.2,667.6 L870.2,667.5 L872.2,667.4 L874.2,667.3 L876.2,667.2 L878.2,667.1 L880.2,667.0 L882.2,666.9 L884.2,666.8 L886.2,666.7 L888.2,666.6 L890.2,666.5 L892.2,666.4 L894.2,666.3 L896.2,666.2 L898.2,666.1 L900.2,666.0 L902.2,665.9 L904.2,665.8 L906.2,665.7 L908.2,665.6 L910.2,665.5 L912.2,665.4 L914.2,665.3 L916.2,665.2 L918.2,665.1 L920.2,665.0 L922.2,664.9 L924.2,664.8 L926.2,664.7 L928.2,664.6 L930.2,664.5 L932.2,664.4 L934.2,664.3 L936.2,664.2 L938.2,664.1 L940.2,664.0 L942.2,663.9 L944.2,663.8 L946.1,663.7 L948.1,663.6 L950.1,663.5 L952.1,663.4 L954.1,663.3 L956.1,663.2 L958.1,663.1 L960.1,663.0 L962.1,662.9 L964.1,662.8 L966.1,662.7 L968.1,662.6 L970.1,662.4 L972.1,662.3 L974.1,662.2 L976.1,662.1 L978.1,662.0 L980.1,661.9 L982.1,661.8 L984.1,661.7 L986.1,661.5 L988.1,661.4 L990.1,661.3 L992.1,661.2 L994.1,661.0 L996.1,660.9 L998.1,660.8 L1000.1,660.6 L1002.1,660.5 L1004.0,660.3 L1006.0,660.2 L1008.0,660.0 L1010.0,659.9 L1012.0,659.7 L1014.0,659.5 L1016.0,659.3 L1018.0,659.1 L1020.0,658.9 L1022.0,658.7 L1023.9,658.4 L1025.9,658.2 L1027.9,658.0 L1029.9,657.7 L1031.9,657.4 L1033.9,657.2 L1035.8,656.9 L1037.8,656.6 L1039.8,656.3 L1041.8,655.9 L1043.7,655.6 L1045.7,655.3 L1047.7,655.0 L1049.7,654.6 L1051.6,654.3 L1053.6,653.9 L1055.6,653.6 L1057.6,653.3 L1059.5,652.9 L1061.5,652.6 L1063.5,652.3 L1065.5,652.0 L1067.4,651.7 L1069.4,651.4 L1071.4,651.1 L1073.4,650.8 L1075.3,650.6 L1077.3,650.3 L1079.3,650.0 L1081.3,649.7 L1083.2,649.4 L1085.2,649.0 L1087.2,648.6 L1089.1,648.2 L1091.1,647.7 L1093.0,647.2 L1094.9,646.6 L1096.9,646.0 L1098.7,645.3 L1100.6,644.6 L1102.5,643.9 L1104.3,643.1 L1106.1,642.2 L1107.9,641.3 L1109.6,640.3 L1111.3,639.2 L1113.0,638.1 L1114.6,636.9 L1116.2,635.7 L1117.7,634.4 L1119.2,633.0 L1120.6,631.6 L1121.9,630.1 L1123.1,628.5 L1124.3,626.9 L1125.5,625.3 L1126.6,623.6 L1127.7,621.9 L1128.8,620.3 L1129.9,618.6 L1131.1,616.9 L1132.2,615.3 L1133.4,613.6 L1134.5,612.0 L1135.7,610.4 L1136.8,608.7 L1138.0,607.1 L1139.1,605.5 L1140.2,603.8 L1141.3,602.1 L1142.3,600.4 L1143.4,598.7 L1144.4,597.0 L1145.4,595.3 L1146.3,593.5 L1147.3,591.8 L1148.2,590.0 L1149.2,588.2 L1150.1,586.4 L1151.0,584.7 L1152.0,582.9 L1152.9,581.1 L1153.8,579.3 L1154.7,577.6 L1155.6,575.8 L1156.6,574.0 L1157.5,572.2 L1158.4,570.5 L1159.3,568.7 L1160.3,566.9 L1161.2,565.1 L1162.1,563.4 L1163.0,561.6 L1163.9,559.8 L1164.9,558.0 L1165.8,556.3 L1166.7,554.5 L1167.6,552.7 L1168.5,550.9 L1169.4,549.1 L1170.2,547.3 L1171.1,545.5 L1172.0,543.7 L1172.8,541.9 L1173.7,540.1 L1174.5,538.3 L1175.4,536.5 L1176.2,534.6 L1177.0,532.8 L1177.9,531.0 L1178.7,529.2 L1179.5,527.4 L1180.4,525.5 L1181.2,523.7 L1182.0,521.9 L1182.9,520.1 L1183.7,518.3 L1184.6,516.5 L1185.4,514.7 L1186.3,512.9 L1187.2,511.1 L1188.1,509.3 L1189.1,507.6 L1190.1,505.9 L1191.2,504.2 L1192.4,502.5 L1193.6,500.9 L1195.0,499.4 L1196.5,498.1 L1198.2,497.2 L1200.0,496.5 L1202.0,496.1 L1204.0,496.0 L1206.1,495.9 L1208.2,496.1 L1210.1,496.5 L1211.9,497.2 L1213.6,498.2 L1215.2,499.4 L1216.6,500.8 L1217.9,502.3 L1219.2,503.9 L1220.3,505.6 L1221.4,507.2 L1222.5,509.0 L1223.4,510.7 L1224.4,512.5 L1225.3,514.3 L1226.2,516.1 L1227.1,517.9 L1227.9,519.7 L1228.8,521.5 L1229.6,523.4 L1230.4,525.2 L1231.2,527.0 L1232.0,528.9 L1232.7,530.7 L1233.5,532.5 L1234.2,534.4 L1235.0,536.2 L1235.7,538.1 L1236.4,540.0 L1237.1,541.8 L1237.9,543.7 L1238.6,545.5 L1239.3,547.4 L1240.0,549.3 L1240.7,551.2 L1241.4,553.0 L1242.1,554.9 L1242.8,556.8 L1243.5,558.7 L1244.2,560.5 L1244.9,562.4 L1245.6,564.3 L1246.3,566.1 L1247.1,568.0 L1247.8,569.9 L1248.6,571.7 L1249.3,573.6 L1250.1,575.5 L1250.9,577.3 L1251.7,579.1 L1252.5,581.0 L1253.3,582.8 L1254.1,584.6 L1255.0,586.4 L1255.9,588.2 L1256.7,590.0 L1257.6,591.8 L1258.6,593.6 L1259.5,595.3 L1260.5,597.1 L1261.5,598.8 L1262.5,600.5 L1263.5,602.2 L1264.6,603.9 L1265.6,605.6 L1266.7,607.2 L1267.8,608.9 L1269.0,610.5 L1270.1,612.1 L1271.3,613.8 L1272.5,615.3 L1273.8,616.9 L1275.0,618.5 L1276.3,620.0 L1277.6,621.6 L1278.9,623.1 L1280.2,624.6 L1281.6,626.1 L1283.0,627.5 L1284.4,629.0 L1285.8,630.4 L1287.3,631.8 L1288.8,633.1 L1290.4,634.4 L1292.0,635.6 L1293.6,636.8 L1295.3,637.9 L1297.0,638.9 L1298.8,639.7 L1300.6,640.5 L1302.5,641.3 L1304.3,641.9 L1306.3,642.4 L1308.2,642.8 L1310.2,643.2 L1312.1,643.5 L1314.1,643.7 L1316.1,643.8 L1318.1,643.9 L1320.1,644.0 L1322.1,644.0 L1324.2,643.9 L1326.2,643.9 L1328.2,643.9 L1330.2,643.8 L1332.2,643.7 L1334.3,643.7 L1336.3,643.7 L1338.3,643.6 L1340.3,643.6 L1342.3,643.5 L1344.3,643.5 L1346.3,643.4 L1348.3,643.4 L1350.3,643.4 L1352.3,643.3 L1354.3,643.3 L1356.3,643.3 L1358.2,643.2 L1360.2,643.2 L1362.2,643.1 L1364.2,643.1 L1366.2,643.1 L1368.2,643.0 L1370.2,643.0 L1372.2,643.0 L1374.2,642.9 L1376.2,642.9 L1378.2,642.8 L1380.2,642.8 L1382.2,642.8 L1384.2,642.7 L1386.2,642.7 L1388.2,642.6 L1390.2,642.6 L1392.2,642.6 L1394.2,642.5 L1396.2,642.5 L1398.2,642.4 L1400.2,642.4 L1402.2,642.4 L1404.2,642.3 L1406.2,642.3 L1408.2,642.2 L1410.2,642.2 L1412.2,642.2 L1414.2,642.1 L1416.2,642.1 L1418.2,642.0 L1420.2,642.0 L1422.2,642.0 L1424.2,641.9 L1426.2,641.9 L1428.2,641.8 L1430.2,641.8 L1432.2,641.8 L1434.2,641.7 L1436.2,641.7 L1438.2,641.6 L1440.2,641.6 L1442.2,641.6 L1444.2,641.5 L1446.2,641.5 L1448.2,641.4 L1450.2,641.4 L1452.2,641.4 L1454.2,641.3 L1456.2,641.3 L1458.2,641.2 L1460.2,641.2 L1462.2,641.2 L1464.2,641.1 L1466.2,641.1 L1468.2,641.0 L1470.2,641.0 L1472.2,641.0 L1474.2,640.9 L1476.2,640.9 L1478.2,640.8 L1480.2,640.8 L1482.2,640.8 L1484.2,640.7 L1486.2,640.7 L1488.2,640.6 L1490.2,640.6 L1492.2,640.6 L1494.2,640.5 L1496.2,640.5 L1498.2,640.4 L1500.2,640.4 L1502.2,640.3 L1504.2,640.3 L1506.2,640.3 L1508.2,640.2 L1510.2,640.2 L1512.2,640.1 L1514.2,640.1 L1516.2,640.1 L1518.2,640.0 L1520.2,640.0 L1522.2,639.9 L1524.2,639.9 L1526.2,639.9 L1528.2,639.8 L1530.2,639.8 L1532.2,639.7 L1534.2,639.7 L1536.2,639.7 L1538.2,639.6 L1540.2,639.6 L1542.2,639.5 L1544.2,639.5 L1546.2,639.5 L1548.2,639.4 L1550.2,639.4 L1552.2,639.3 L1554.2,639.3 L1556.2,639.2 L1558.2,639.2 L1560.2,639.2 L1562.2,639.1 L1564.2,639.1 L1566.2,639.0 L1568.2,639.0 L1570.2,639.0 L1572.2,638.9 L1574.2,638.9 L1576.2,638.8 L1578.2,638.8 L1580.2,638.8 L1582.2,638.7 L1584.2,638.7 L1586.2,638.6 L1588.2,638.6 L1590.2,638.5 L1592.2,638.5 L1594.2,638.5 L1596.2,638.4 L1598.2,638.4 L1600.2,638.3 L1602.2,638.3 L1604.2,638.3 L1606.2,638.2 L1608.2,638.2 L1610.2,638.1 L1612.2,638.1 L1614.2,638.1 L1616.2,638.0 L1618.2,638.0 L1620.2,637.9 L1622.2,637.9 L1624.2,637.8 L1626.2,637.8 L1628.2,637.8 L1630.2,637.7 L1632.2,637.7 L1634.2,637.6 L1636.2,637.6 L1638.2,637.6 L1640.2,637.5 L1642.2,637.5 L1644.2,637.4 L1646.2,637.4 L1648.2,637.3 L1650.2,637.3 L1652.2,637.3 L1654.2,637.2 L1656.2,637.2 L1658.2,637.1 L1660.2,637.1 L1662.2,637.1 L1664.2,637.0 L1666.2,637.0 L1668.2,636.9 L1670.2,636.9 L1672.2,636.8 L1674.2,636.8 L1676.2,636.8 L1678.2,636.7 L1680.2,636.7 L1682.2,636.6 L1684.2,636.6 L1686.2,636.5 L1688.2,636.5 L1690.2,636.5 L1692.2,636.4 L1694.2,636.4 L1696.2,636.3 L1698.2,636.3 L1700.2,636.3 L1702.2,636.2 L1704.2,636.2 L1706.2,636.1 L1708.2,636.1 L1710.2,636.0 L1712.2,636.0 L1714.2,636.0 L1716.2,635.9 L1718.2,635.9 L1720.2,635.8 L1722.2,635.8 L1724.2,635.8 L1726.2,635.7 L1728.2,635.7 L1730.2,635.6 L1732.2,635.6 L1734.2,635.5 L1736.2,635.5 L1738.2,635.5 L1740.2,635.4 L1742.2,635.4 L1744.2,635.3 L1746.2,635.3 L1748.2,635.3 L1750.2,635.2 L1752.2,635.2 L1754.2,635.1 L1756.2,635.1 L1758.2,635.1 L1760.2,635.0 L1762.2,635.0 L1764.1,634.9 L1766.1,634.9 L1768.1,634.8 L1770.1,634.8 L1772.1,634.8 L1774.1,634.7 L1776.1,634.7 L1778.1,634.6 L1780.1,634.6 L1782.1,634.6 L1784.1,634.5 L1786.1,634.5 L1788.1,634.4 L1790.1,634.4 L1792.1,634.4 L1794.1,634.3 L1796.1,634.3 L1798.1,634.2 L1800.1,634.2 L1802.1,634.1 L1804.1,634.1 L1806.1,634.1 L1808.1,634.0 L1810.1,634.0 L1812.1,633.9 L1814.1,633.9 L1816.1,633.9 L1818.1,633.8 L1820.1,633.8 L1822.1,633.7 L1824.1,633.7 L1826.1,633.7 L1828.1,633.6 L1830.1,633.6 L1832.1,633.5 L1834.1,633.5 L1836.1,633.5 L1838.1,633.4 L1840.1,633.4 L1842.1,633.3 L1844.1,633.3 L1846.1,633.3 L1848.1,633.2 L1850.1,633.2 L1852.1,633.1 L1854.1,633.1 L1855.0,633.1"/>
<path stroke="#ff00ff" d="M244.0,557.9 L246.0,557.8 L248.0,557.7 L250.0,557.6 L252.0,557.5 L254.0,557.4 L256.0,557.3 L258.0,557.2 L260.0,557.1 L262.0,557.0 L264.0,556.9 L266.0,556.8 L268.0,556.7 L270.0,556.6 L272.0,556.6 L274.0,556.5 L276.0,556.4 L278.0,556.3 L280.0,556.2 L282.0,556.1 L284.0,556.1 L286.0,556.0 L288.0,555.9 L290.0,555.8 L292.0,555.7 L294.0,555.7 L295.9,555.6 L297.9,555.5 L299.9,555.4 L301.9,555.4 L303.9,555.3 L305.9,555.2 L307.9,555.1 L309.9,555.0 L311.9,555.0 L313.9,554.9 L315.9,554.8 L317.9,554.7 L319.9,554.7 L321.9,554.6 L323.9,554.5 L325.9,554.4 L327.9,554.4 L329.9,554.3 L331.9,554.2 L333.9,554.1 L335.9,554.1 L337.9,554.0 L339.9,553.9 L341.9,553.8 L343.9,553.8 L345.9,553.7 L347.9,553.6 L349.9,553.5 L351.9,553.5 L353.9,553.4 L355.9,553.3 L357.9,553.2 L359.9,553.1 L361.9,553.0 L363.9,553.0 L365.9,552.9 L367.9,552.8 L369.9,552.7 L371.9,552.6 L373.9,552.5 L375.9,552.4 L377.9,552.3 L379.9,552.3 L381.9,552.2 L383.9,552.1 L385.9,552.0 L387.9,551.9 L389.9,551.8 L391.9,551.7 L393.9,551.6 L395.9,551.5 L397.9,551.4 L399.9,551.3 L401.9,551.2 L403.9,551.1 L405.9,551.0 L407.9,550.9 L409.8,550.8 L411.8,550.6 L413.8,550.5 L415.8,550.4 L417.8,550.3 L419.8,550.2 L421.8,550.1 L423.8,550.0 L425.8,549.9 L427.8,549.7 L429.8,549.6 L431.8,549.5 L433.8,549.4 L435.8,549.3 L437.8,549.2 L439.8,549.0 L441.8,548.9 L443.8,548.8 L445.8,548.7 L447.8,548.6 L449.8,548.4 L451.8,548.3 L453.8,548.2 L455.8,548.1 L457.8,547.9 L459.8,547.8 L461.7,547.7 L463.7,547.6 L465.7,547.4 L467.7,547.3 L469.7,547.2 L471.7,547.0 L473.7,546.9 L475.7,546.8 L477.7,546.6 L479.7,546.5 L481.7,546.4 L483.7,546.2 L485.7,546.1 L487.7,546.0 L489.7,545.8 L491.7,545.7 L493.7,545.6 L495.7,545.4 L497.7,545.3 L499.7,545.1 L501.7,545.0 L503.7,544.9 L505.6,544.7 L507.6,544.6 L509.6,544.5 L511.6,544.3 L513.6,544.2 L515.6,544.0 L517.6,543.9 L519.6,543.8 L521.6,543.6 L523.6,543.5 L525.6,543.3 L527.6,543.2 L529.6,543.0 L531.6,542.9 L533.6,542.8 L535.6,542.6 L537.6,542.5 L539.6,542.3 L541.6,542.2 L543.6,542.0 L545.6,541.9 L547.5,541.7 L549.5,541.6 L551.5,541.5 L553.5,541.3 L555.5,541.2 L557.5,541.0 L559.5,540.9 L561.5,540.7 L563.5,540.6 L565.5,540.4 L567.5,540.3 L569.5,540.1 L571.5,540.0 L573.5,539.9 L575.5,539.7 L577.5,539.6 L579.5,539.4 L581.5,539.3 L583.5,539.1 L585.5,539.0 L587.5,538.8 L589.4,538.7 L591.4,538.6 L593.4,538.4 L595.4,538.3 L597.4,538.1 L599.4,538.0 L601.4,537.8 L603.4,537.7 L605.4,537.5 L607.4,537.4 L609.4,537.3 L611.4,537.1 L613.4,537.0 L615.4,536.8 L617.4,536.7 L619.4,536.6 L621.4,536.4 L623.4,536.3 L625.4,536.1 L627.4,536.0 L629.3,535.9 L631.3,535.7 L633.3,535.6 L635.3,535.4 L637.3,535.3 L639.3,535.2 L641.3,535.0 L643.3,534.9 L645.3,534.8 L647.3,534.6 L649.3,534.5 L651.3,534.4 L653.3,534.2 L655.3,534.1 L657.3,534.0 L659.3,533.8 L661.3,533.7 L663.3,533.6 L665.3,533.4 L667.3,533.3 L669.2,533.2 L671.2,533.0 L673.2,532.9 L675.2,532.8 L677.2,532.6 L679.2,532.5 L681.2,532.4 L683.2,532.3 L685.2,532.1 L687.2,532.0 L689.2,531.9 L691.2,531.8 L693.2,531.6 L695.2,531.5 L697.2,531.4 L699.2,531.3 L701.2,531.1 L703.2,531.0 L705.2,530.9 L707.2,530.8 L709.2,530.6 L711.1,530.5 L713.1,530.4 L715.1,530.3 L717.1,530.1 L719.1,530.0 L721.1,529.9 L723.1,529.8 L725.1,529.7 L727.1,529.5 L729.1,529.4 L731.1,529.3 L733.1,529.2 L735.1,529.0 L737.1,528.9 L739.1,528.8 L741.1,528.7 L743.1,528.6 L745.1,528.4 L747.1,528.3 L749.1,528.2 L751.1,528.1 L753.1,528.0 L755.1,527.9 L757.1,527.7 L759.1,527.6 L761.0,527.5 L763.0,527.4 L765.0,527.3 L767.0,527.1 L769.0,527.0 L771.0,526.9 L773.0,526.8 L775.0,526.7 L777.0,526.6 L779.0,526.4 L781.0,526.3 L783.0,526.2 L785.0,526.1 L787.0,526.0 L789.0,525.8 L791.0,525.7 L793.0,525.6 L795.0,525.5 L797.0,525.4 L799.0,525.2 L801.0,525.1 L803.0,525.0 L805.0,524.9 L807.0,524.8 L809.0,524.7 L811.0,524.5 L813.0,524.4 L815.0,524.3 L817.0,524.2 L819.0,524.0 L821.0,523.9 L823.0,523.8 L825.0,523.7 L827.0,523.6 L829.0,523.4 L830.9,523.3 L832.9,523.2 L834.9,523.1 L836.9,522.9 L838.9,522.8 L840.9,522.7 L842.9,522.6 L844.9,522.4 L846.9,522.3 L848.9,522.2 L850.9,522.0 L852.9,521.9 L854.9,521.8 L856.9,521.7 L858.9,521.5 L860.9,521.4 L862.9,521.3 L864.9,521.1 L866.9,521.0 L868.9,520.9 L870.9,520.7 L872.9,520.6 L874.9,520.4 L876.9,520.3 L878.9,520.2 L880.9,520.0 L882.9,519.9 L884.9,519.7 L886.8,519.6 L888.8,519.5 L890.8,519.3 L892.8,519.2 L894.8,519.0 L896.8,518.9 L898.8,518.7 L900.8,518.6 L902.8,518.4 L904.8,518.3 L906.8,518.1 L908.8,518.0 L910.8,517.8 L912.8,517.7 L914.8,517.5 L916.8,517.4 L918.8,517.2 L920.7,517.0 L922.7,516.9 L924.7,516.7 L926.7,516.6 L928.7,516.4 L930.7,516.2 L932.7,516.1 L934.7,515.9 L936.7,515.7 L938.7,515.6 L940.7,515.4 L942.7,515.2 L944.7,515.0 L946.6,514.9 L948.6,514.7 L950.6,514.5 L952.6,514.3 L954.6,514.1 L956.6,514.0 L958.6,513.8 L960.6,513.6 L962.6,513.4 L964.6,513.2 L966.5,513.0 L968.5,512.8 L970.5,512.6 L972.5,512.4 L974.5,512.2 L976.5,512.1 L978.5,511.9 L980.5,511.7 L982.4,511.4 L984.4,511.2 L986.4,511.0 L988.4,510.8 L990.4,510.6 L992.4,510.4 L994.4,510.2 L996.3,510.0 L998.3,509.8 L1000.3,509.5 L1002.3,509.3 L1004.3,509.1 L1006.3,508.9 L1008.3,508.6 L1010.2,508.4 L1012.2,508.2 L1014.2,507.9 L1016.2,507.7 L1018.2,507.4 L1020.2,507.2 L1022.1,506.9 L1024.1,506.6 L1026.1,506.4 L1028.1,506.1 L1030.1,505.8 L1032.1,505.6 L1034.0,505.3 L1036.0,505.0 L1038.0,504.7 L1040.0,504.4 L1042.0,504.1 L1044.0,503.8 L1045.9,503.5 L1047.9,503.1 L1049.9,502.8 L1051.9,502.5 L1053.9,502.1 L1055.9,501.8 L1057.9,501.4 L1059.8,501.1 L1061.8,500.7 L1063.8,500.3 L1065.8,500.0 L1067.8,499.6 L1069.7,499.1 L1071.7,498.7 L1073.6,498.2 L1075.5,497.6 L1077.4,497.1 L1079.3,496.4 L1081.1,495.8 L1082.9,495.0 L1084.7,494.2 L1086.4,493.3 L1088.1,492.3 L1089.8,491.3 L1091.4,490.2 L1092.9,488.9 L1094.4,487.6 L1095.9,486.3 L1097.3,484.8 L1098.7,483.4 L1100.0,481.8 L1101.4,480.3 L1102.7,478.6 L1103.9,477.0 L1105.1,475.4 L1106.4,473.7 L1107.5,472.0 L1108.7,470.4 L1109.9,468.7 L1111.0,467.1 L1112.1,465.4 L1113.2,463.7 L1114.3,462.1 L1115.3,460.4 L1116.3,458.7 L1117.3,457.0 L1118.3,455.3 L1119.2,453.6 L1120.1,451.8 L1121.0,450.0 L1121.9,448.2 L1122.7,446.4 L1123.5,444.6 L1124.3,442.8 L1125.1,440.9 L1125.8,439.0 L1126.6,437.2 L1127.3,435.3 L1128.1,433.4 L1128.8,431.5 L1129.6,429.7 L1130.4,427.8 L1131.1,425.9 L1131.9,424.1 L1132.7,422.3 L1133.5,420.4 L1134.3,418.6 L1135.1,416.8 L1136.0,415.0 L1136.8,413.1 L1137.6,411.3 L1138.4,409.5 L1139.2,407.7 L1140.0,405.9 L1140.8,404.1 L1141.6,402.2 L1142.4,400.4 L1143.2,398.6 L1144.0,396.8 L1144.8,395.0 L1145.7,393.2 L1146.5,391.3 L1147.3,389.5 L1148.1,387.7 L1149.0,385.9 L1149.8,384.1 L1150.7,382.3 L1151.6,380.5 L1152.5,378.7 L1153.4,376.9 L1154.3,375.1 L1155.2,373.2 L1156.2,371.4 L1157.1,369.7 L1158.1,367.9 L1159.2,366.1 L1160.3,364.5 L1161.5,362.9 L1162.7,361.3 L1164.1,360.0 L1165.6,358.8 L1167.3,357.9 L1169.2,357.3 L1171.2,357.1 L1173.2,357.1 L1175.3,357.2 L1177.4,357.4 L1179.4,357.8 L1181.2,358.4 L1183.0,359.3 L1184.6,360.4 L1186.1,361.6 L1187.6,363.1 L1189.0,364.6 L1190.3,366.2 L1191.6,367.8 L1192.9,369.4 L1194.1,371.0 L1195.3,372.6 L1196.5,374.2 L1197.7,375.9 L1198.8,377.5 L1199.9,379.2 L1200.9,380.9 L1201.9,382.6 L1202.9,384.3 L1203.8,386.0 L1204.7,387.8 L1205.6,389.6 L1206.4,391.4 L1207.3,393.2 L1208.0,395.0 L1208.8,396.9 L1209.5,398.8 L1210.3,400.6 L1211.0,402.5 L1211.7,404.4 L1212.5,406.2 L1213.2,408.1 L1214.0,410.0 L1214.8,411.8 L1215.5,413.6 L1216.3,415.5 L1217.1,417.3 L1218.0,419.1 L1218.8,421.0 L1219.6,422.8 L1220.5,424.6 L1221.3,426.4 L1222.2,428.2 L1223.1,430.0 L1224.0,431.8 L1224.9,433.5 L1225.8,435.3 L1226.7,437.1 L1227.6,438.9 L1228.6,440.7 L1229.5,442.4 L1230.4,444.2 L1231.4,445.9 L1232.3,447.7 L1233.3,449.5 L1234.3,451.2 L1235.2,453.0 L1236.2,454.7 L1237.2,456.5 L1238.2,458.2 L1239.2,459.9 L1240.3,461.6 L1241.4,463.3 L1242.5,464.9 L1243.7,466.5 L1244.9,468.0 L1246.2,469.6 L1247.4,471.1 L1248.7,472.7 L1249.9,474.3 L1251.1,476.0 L1252.4,477.6 L1253.6,479.3 L1254.9,480.9 L1256.2,482.4 L1257.7,483.8 L1259.2,485.1 L1260.7,486.2 L1262.4,487.1 L1264.2,487.9 L1266.0,488.6 L1267.9,489.1 L1269.8,489.6 L1271.8,489.9 L1273.8,490.2 L1275.9,490.4 L1277.9,490.5 L1280.0,490.6 L1282.0,490.7 L1284.0,490.7 L1286.1,490.7 L1288.1,490.7 L1290.1,490.7 L1292.1,490.6 L1294.1,490.6 L1296.1,490.5 L1298.1,490.4 L1300.1,490.3 L1302.1,490.3 L1304.1,490.2 L1306.1,490.1 L1308.1,490.0 L1310.1,489.9 L1312.1,489.9 L1314.0,489.8 L1316.0,489.7 L1318.0,489.6 L1320.0,489.5 L1322.0,489.5 L1324.0,489.4 L1326.0,489.3 L1328.0,489.2 L1330.0,489.1 L1332.0,489.1 L1334.0,489.0 L1336.0,488.9 L1338.0,488.8 L1340.0,488.7 L1342.0,488.7 L1344.0,488.6 L1346.0,488.5 L1348.0,488.4 L1350.0,488.3 L1352.0,488.3 L1354.0,488.2 L1356.0,488.1 L1358.0,488.0 L1360.0,488.0 L1362.0,487.9 L1363.9,487.8 L1365.9,487.7 L1367.9,487.6 L1369.9,487.6 L1371.9,487.5 L1373.9,487.4 L1375.9,487.3 L1377.9,487.3 L1379.9,487.2 L1381.9,487.1 L1383.9,487.0 L1385.9,486.9 L1387.9,486.9 L1389.9,486.8 L1391.9,486.7 L1393.9,486.6 L1395.9,486.6 L1397.9,486.5 L1399.9,486.4 L1401.9,486.3 L1403.9,486.3 L1405.9,486.2 L1407.9,486.1 L1409.9,486.0 L1411.9,486.0 L1413.9,485.9 L1415.9,485.8 L1417.9,485.7 L1419.9,485.6 L1421.9,485.6 L1423.9,485.5 L1425.9,485.4 L1427.9,485.3 L1429.9,485.3 L1431.9,485.2 L1433.9,485.1 L1435.9,485.0 L1437.9,485.0 L1439.9,484.9 L1441.9,484.8 L1443.9,484.7 L1445.9,484.7 L1447.9,484.6 L1449.9,484.5 L1451.9,484.4 L1453.9,484.4 L1455.9,484.3 L1457.9,484.2 L1459.9,484.1 L1461.9,484.1 L1463.9,484.0 L1465.8,483.9 L1467.8,483.8 L1469.8,483.8 L1471.8,483.7 L1473.8,483.6 L1475.8,483.5 L1477.8,483.5 L1479.8,483.4 L1481.8,483.3 L1483.8,483.2 L1485.8,483.2 L1487.8,483.1 L1489.8,483.0 L1491.8,482.9 L1493.8,482.9 L1495.8,482.8 L1497.8,482.7 L1499.8,482.6 L1501.8,482.6 L1503.8,482.5 L1505.8,482.4 L1507.8,482.3 L1509.8,482.3 L1511.8,482.2 L1513.8,482.1 L1515.8,482.0 L1517.8,482.0 L1519.8,481.9 L1521.8,481.8 L1523.8,481.7 L1525.8,481.7 L1527.8,481.6 L1529.8,481.5 L1531.8,481.4 L1533.8,481.4 L1535.8,481.3 L1537.8,481.2 L1539.8,481.1 L1541.8,481.1 L1543.8,481.0 L1545.8,480.9 L1547.8,480.8 L1549.8,480.8 L1551.8,480.7 L1553.8,480.6 L1555.8,480.5 L1557.8,480.5 L1559.8,480.4 L1561.8,480.3 L1563.8,480.2 L1565.8,480.2 L1567.8,480.1 L1569.8,480.0 L1571.8,479.9 L1573.8,479.9 L1575.8,479.8 L1577.8,479.7 L1579.8,479.6 L1581.8,479.6 L1583.8,479.5 L1585.8,479.4 L1587.8,479.3 L1589.8,479.2 L1591.8,479.2 L1593.8,479.1 L1595.8,479.0 L1597.8,478.9 L1599.8,478.9 L1601.8,478.8 L1603.8,478.7 L1605.8,478.6 L1607.8,478.6 L1609.8,478.5 L1611.8,478.4 L1613.8,478.3 L1615.8,478.3 L1617.8,478.2 L1619.8,478.1 L1621.8,478.0 L1623.8,477.9 L1625.8,477.9 L1627.8,477.8 L1629.8,477.7 L1631.8,477.6 L1633.8,477.6 L1635.8,477.5 L1637.8,477.4 L1639.8,477.3 L1641.8,477.3 L1643.8,477.2 L1645.8,477.1 L1647.7,477.0 L1649.7,476.9 L1651.7,476.9 L1653.7,476.8 L1655.7,476.7 L1657.7,476.6 L1659.7,476.6 L1661.7,476.5 L1663.7,476.4 L1665.7,476.3 L1667.7,476.2 L1669.7,476.2 L1671.7,476.1 L1673.7,476.0 L1675.7,475.9 L1677.7,475.9 L1679.7,475.8 L1681.7,475.7 L1683.7,475.6 L1685.7,475.5 L1687.7,475.5 L1689.7,475.4 L1691.7,475.3 L1693.7,475.2 L1695.7,475.2 L1697.7,475.1 L1699.7,475.0 L1701.7,474.9 L1703.7,474.8 L1705.7,474.8 L1707.7,474.7 L1709.7,474.6 L1711.7,474.5 L1713.7,474.5 L1715.7,474.4 L1717.7,474.3 L1719.7,474.2 L1721.7,474.2 L1723.7,474.1 L1725.7,474.0 L1727.7,473.9 L1729.7,473.8 L1731.7,473.8 L1733.7,473.7 L1735.7,473.6 L1737.7,473.5 L1739.7,473.5 L1741.7,473.4 L1743.7,473.3 L1745.7,473.2 L1747.7,473.1 L1749.7,473.1 L1751.7,473.0 L1753.7,472.9 L1755.6,472.8 L1757.6,472.8 L1759.6,472.7 L1761.6,472.6 L1763.6,472.5 L1765.6,472.5 L1767.6,472.4 L1769.6,472.3 L1771.6,472.2 L1773.6,472.2 L1775.6,472.1 L1777.6,472.0 L1779.6,471.9 L1781.6,471.8 L1783.6,471.8 L1785.6,471.7 L1787.6,471.6 L1789.6,471.5 L1791.6,471.5 L1793.6,471.4 L1795.6,471.3 L1797.6,471.2 L1799.6,471.2 L1801.6,471.1 L1803.6,471.0 L1805.6,470.9 L1807.6,470.9 L1809.6,470.8 L1811.6,470.7 L1813.6,470.6 L1815.6,470.6 L1817.6,470.5 L1819.6,470.4 L1821.6,470.3 L1823.6,470.3 L1825.6,470.2 L1827.6,470.1 L1829.6,470.0 L1831.6,470.0 L1833.6,469.9 L1835.6,469.8 L1837.6,469.7 L1839.6,469.7 L1841.6,469.6 L1843.6,469.5 L1845.6,469.4 L1847.6,469.4 L1849.6,469.3 L1851.6,469.2 L1853.6,469.1 L1855.0,469.1"/>
<path stroke="#000080" d="M105.0,254.0 L107.0,253.9 L109.0,253.8 L111.0,253.7 L113.0,253.6 L115.0,253.4 L117.0,253.3 L119.0,253.2 L121.0,253.1 L123.0,253.0 L125.0,252.8 L127.0,252.7 L129.0,252.6 L130.9,252.5 L132.9,252.3 L134.9,252.2 L136.9,252.1 L138.9,252.0 L140.9,251.9 L142.9,251.7 L144.9,251.6 L146.9,251.5 L148.9,251.4 L150.9,251.2 L152.9,251.1 L154.9,251.0 L156.9,250.9 L158.9,250.7 L160.9,250.6 L162.9,250.5 L164.9,250.4 L166.9,250.2 L168.9,250.1 L170.9,250.0 L172.9,249.9 L174.9,249.7 L176.9,249.6 L178.9,249.5 L180.9,249.4 L182.8,249.2 L184.8,249.1 L186.8,249.0 L188.8,248.8 L190.8,248.7 L192.8,248.6 L194.8,248.5 L196.8,248.3 L198.8,248.2 L200.8,248.1 L202.8,247.9 L204.8,247.8 L206.8,247.7 L208.8,247.6 L210.8,247.4 L212.8,247.3 L214.8,247.2 L216.8,247.1 L218.8,246.9 L220.8,246.8 L222.8,246.7 L224.8,246.5 L226.8,246.4 L228.8,246.3 L230.7,246.2 L232.7,246.0 L234.7,245.9 L236.7,245.8 L238.7,245.6 L240.7,245.5 L242.7,245.4 L244.7,245.3 L246.7,245.1 L248.7,245.0 L250.7,244.9 L252.7,244.7 L254.7,244.6 L256.7,244.5 L258.7,244.4 L260.7,244.2 L262.7,244.1 L264.7,244.0 L266.7,243.8 L268.7,243.7 L270.7,243.6 L272.7,243.5 L274.7,243.3 L276.7,243.2 L278.7,243.1 L280.6,243.0 L282.6,242.8 L284.6,242.7 L286.6,242.6 L288.6,242.4 L290.6,242.3 L292.6,242.2 L294.6,242.1 L296.6,241.9 L298.6,241.8 L300.6,241.7 L302.6,241.6 L304.6,241.4 L306.6,241.3 L308.6,241.2 L310.6,241.1 L312.6,240.9 L314.6,240.8 L316.6,240.7 L318.6,240.6 L320.6,240.4 L322.6,240.3 L324.6,240.2 L326.6,240.1 L328.6,240.0 L330.5,239.8 L332.5,239.7 L334.5,239.6 L336.5,239.5 L338.5,239.4 L340.5,239.2 L342.5,239.1 L344.5,239.0 L346.5,238.9 L348.5,238.8 L350.5,238.6 L352.5,238.5 L354.5,238.4 L356.5,238.3 L358.5,238.2 L360.5,238.0 L362.5,237.9 L364.5,237.8 L366.5,237.7 L368.5,237.6 L370.5,237.5 L372.5,237.3 L374.5,237.2 L376.5,237.1 L378.5,237.0 L380.5,236.9 L382.5,236.8 L384.5,236.7 L386.5,236.5 L388.5,236.4 L390.4,236.3 L392.4,236.2 L394.4,236.1 L396.4,236.0 L398.4,235.9 L400.4,235.8 L402.4,235.7 L404.4,235.6 L406.4,235.4 L408.4,235.3 L410.4,235.2 L412.4,235.1 L414.4,235.0 L416.4,234.9 L418.4,234.8 L420.4,234.7 L422.4,234.6 L424.4,234.5 L426.4,234.3 L428.4,234.2 L430.4,234.1 L432.4,234.0 L434.4,233.9 L436.4,233.8 L438.4,233.6 L440.4,233.5 L442.4,233.4 L444.4,233.3 L446.4,233.2 L448.4,233.0 L450.4,232.9 L452.3,232.8 L454.3,232.7 L456.3,232.5 L458.3,232.4 L460.3,232.3 L462.3,232.1 L464.3,232.0 L466.3,231.9 L468.3,231.7 L470.3,231.6 L472.3,231.5 L474.3,231.3 L476.3,231.2 L478.3,231.0 L480.3,230.9 L482.3,230.7 L484.3,230.6 L486.3,230.4 L488.3,230.3 L490.2,230.1 L492.2,230.0 L494.2,229.8 L496.2,229.7 L498.2,229.5 L500.2,229.4 L502.2,229.2 L504.2,229.1 L506.2,228.9 L508.2,228.8 L510.2,228.6 L512.2,228.5 L514.2,228.3 L516.2,228.2 L518.2,228.0 L520.2,227.9 L522.2,227.7 L524.2,227.6 L526.1,227.5 L528.1,227.3 L530.1,227.2 L532.1,227.0 L534.1,226.9 L536.1,226.7 L538.1,226.6 L540.1,226.4 L542.1,226.3 L544.1,226.2 L546.1,226.0 L548.1,225.9 L550.1,225.7 L552.1,225.6 L554.1,225.5 L556.1,225.3 L558.1,225.2 L560.1,225.1 L562.1,224.9 L564.1,224.8 L566.1,224.7 L568.0,224.5 L570.0,224.4 L572.0,224.2 L574.0,224.1 L576.0,224.0 L578.0,223.8 L580.0,223.7 L582.0,223.6 L584.0,223.4 L586.0,223.3 L588.0,223.2 L590.0,223.0 L592.0,222.9 L594.0,222.8 L596.0,222.6 L598.0,222.5 L600.0,222.4 L602.0,222.2 L604.0,222.1 L606.0,222.0 L608.0,221.8 L610.0,221.7 L612.0,221.6 L613.9,221.4 L615.9,221.3 L617.9,221.2 L619.9,221.1 L621.9,220.9 L623.9,220.8 L625.9,220.7 L627.9,220.5 L629.9,220.4 L631.9,220.2 L633.9,220.1 L635.9,220.0 L637.9,219.8 L639.9,219.7 L641.9,219.6 L643.9,219.4 L645.9,219.3 L647.9,219.2 L649.9,219.0 L651.9,218.9 L653.9,218.8 L655.9,218.6 L657.8,218.5 L659.8,218.4 L661.8,218.2 L663.8,218.1 L665.8,218.0 L667.8,217.8 L669.8,217.7 L671.8,217.6 L673.8,217.4 L675.8,217.3 L677.8,217.2 L679.8,217.0 L681.8,216.9 L683.8,216.8 L685.8,216.6 L687.8,216.5 L689.8,216.4 L691.8,216.2 L693.8,216.1 L695.8,216.0 L697.8,215.8 L699.8,215.7 L701.7,215.6 L703.7,215.4 L705.7,215.3 L707.7,215.2 L709.7,215.0 L711.7,214.9 L713.7,214.8 L715.7,214.6 L717.7,214.5 L719.7,214.4 L721.7,214.2 L723.7,214.1 L725.7,214.0 L727.7,213.9 L729.7,213.7 L731.7,213.6 L733.7,213.5 L735.7,213.3 L737.7,213.2 L739.7,213.1 L741.7,212.9 L743.7,212.8 L745.6,212.7 L747.6,212.6 L749.6,212.4 L751.6,212.3 L753.6,212.2 L755.6,212.0 L757.6,211.9 L759.6,211.8 L761.6,211.7 L763.6,211.5 L765.6,211.4 L767.6,211.3 L769.6,211.2 L771.6,211.0 L773.6,210.9 L775.6,210.8 L777.6,210.7 L779.6,210.5 L781.6,210.4 L783.6,210.3 L785.6,210.2 L787.6,210.1 L789.6,209.9 L791.6,209.8 L793.6,209.7 L795.6,209.6 L797.5,209.5 L799.5,209.3 L801.5,209.2 L803.5,209.1 L805.5,209.0 L807.5,208.9 L809.5,208.7 L811.5,208.6 L813.5,208.5 L815.5,208.4 L817.5,208.3 L819.5,208.2 L821.5,208.0 L823.5,207.9 L825.5,207.8 L827.5,207.7 L829.5,207.6 L831.5,207.5 L833.5,207.4 L835.5,207.3 L837.5,207.1 L839.5,207.0 L841.5,206.9 L843.5,206.8 L845.5,206.7 L847.5,206.6 L849.5,206.5 L851.5,206.4 L853.5,206.3 L855.5,206.2 L857.5,206.1 L859.5,205.9 L861.5,205.8 L863.5,205.7 L865.5,205.6 L867.5,205.5 L869.4,205.4 L871.4,205.3 L873.4,205.2 L875.4,205.0 L877.4,204.9 L879.4,204.8 L881.4,204.7 L883.4,204.6 L885.4,204.4 L887.4,204.3 L889.4,204.2 L891.4,204.1 L893.4,203.9 L895.4,203.8 L897.4,203.7 L899.4,203.5 L901.4,203.4 L903.4,203.2 L905.4,203.1 L907.4,202.9 L909.4,202.8 L911.4,202.6 L913.3,202.5 L915.3,202.3 L917.3,202.2 L919.3,202.0 L921.3,201.8 L923.3,201.6 L925.3,201.5 L927.3,201.3 L929.3,201.1 L931.3,200.9 L933.3,200.7 L935.2,200.5 L937.2,200.3 L939.2,200.1 L941.2,199.9 L943.2,199.7 L945.2,199.5 L947.2,199.2 L949.1,199.0 L951.1,198.8 L953.1,198.5 L955.1,198.3 L957.1,198.0 L959.1,197.8 L961.1,197.5 L963.0,197.2 L965.0,197.0 L967.0,196.7 L969.0,196.4 L971.0,196.1 L972.9,195.8 L974.9,195.5 L976.9,195.2 L978.9,194.9 L980.8,194.6 L982.8,194.2 L984.8,193.9 L986.8,193.6 L988.7,193.2 L990.7,192.9 L992.7,192.5 L994.6,192.1 L996.6,191.8 L998.6,191.4 L1000.5,191.0 L1002.5,190.6 L1004.5,190.2 L1006.4,189.8 L1008.4,189.4 L1010.3,189.0 L1012.3,188.5 L1014.3,188.1 L1016.2,187.6 L1018.2,187.1 L1020.1,186.6 L1022.0,186.1 L1023.9,185.6 L1025.9,185.0 L1027.8,184.4 L1029.6,183.8 L1031.5,183.1 L1033.4,182.4 L1035.2,181.7 L1037.0,180.9 L1038.8,180.0 L1040.6,179.1 L1042.4,178.2 L1044.1,177.2 L1045.9,176.2 L1047.6,175.2 L1049.3,174.1 L1051.0,173.0 L1052.6,171.9 L1054.3,170.8 L1055.9,169.6 L1057.6,168.4 L1059.2,167.2 L1060.8,166.0 L1062.4,164.8 L1064.0,163.6 L1065.6,162.4 L1067.2,161.2 L1068.8,160.0 L1070.4,158.7 L1071.9,157.5 L1073.5,156.3 L1075.0,155.0 L1076.5,153.7 L1078.0,152.4 L1079.4,151.0 L1080.9,149.6 L1082.3,148.2 L1083.7,146.8 L1085.1,145.4 L1086.6,143.9 L1088.0,142.5 L1089.4,141.1 L1090.9,139.7 L1092.4,138.3 L1093.9,137.0 L1095.4,135.7 L1097.0,134.5 L1098.6,133.3 L1100.2,132.2 L1101.9,131.1 L1103.7,130.1 L1105.5,129.3 L1107.3,128.5 L1109.1,127.8 L1111.0,127.2 L1113.0,126.7 L1114.9,126.3 L1116.9,125.9 L1118.9,125.6 L1120.9,125.4 L1122.9,125.2 L1124.9,125.0 L1126.9,124.9 L1128.9,124.8 L1130.8,124.8 L1132.8,124.8 L1134.8,124.9 L1136.8,124.9 L1138.8,125.0 L1140.8,125.2 L1142.8,125.3 L1144.8,125.5 L1146.8,125.7 L1148.8,125.9 L1150.8,126.1 L1152.8,126.4 L1154.8,126.7 L1156.8,126.9 L1158.8,127.2 L1160.8,127.5 L1162.8,127.9 L1164.8,128.2 L1166.8,128.6 L1168.8,129.0 L1170.7,129.4 L1172.7,129.9 L1174.6,130.4 L1176.5,130.9 L1178.4,131.5 L1180.3,132.2 L1182.2,132.8 L1184.0,133.5 L1185.8,134.3 L1187.6,135.1 L1189.3,136.0 L1191.0,137.0 L1192.7,138.0 L1194.3,139.0 L1195.9,140.2 L1197.5,141.4 L1199.0,142.6 L1200.5,143.9 L1202.0,145.3 L1203.4,146.7 L1204.8,148.1 L1206.2,149.6 L1207.6,151.0 L1209.0,152.5 L1210.4,154.1 L1211.8,155.6 L1213.1,157.1 L1214.5,158.6 L1215.9,160.2 L1217.3,161.7 L1218.7,163.2 L1220.1,164.6 L1221.6,166.0 L1223.0,167.4 L1224.5,168.8 L1226.1,170.1 L1227.6,171.3 L1229.2,172.6 L1230.8,173.7 L1232.5,174.8 L1234.2,175.8 L1235.9,176.8 L1237.7,177.7 L1239.5,178.5 L1241.3,179.2 L1243.2,179.9 L1245.1,180.5 L1247.0,181.0 L1248.9,181.4 L1250.9,181.7 L1252.9,181.9 L1254.9,182.1 L1256.9,182.2 L1258.9,182.3 L1260.9,182.3 L1262.9,182.2 L1264.9,182.2 L1266.9,182.1 L1268.9,182.0 L1271.0,182.0 L1273.0,181.9 L1275.0,181.8 L1277.0,181.8 L1279.0,181.7 L1281.0,181.7 L1283.0,181.6 L1285.0,181.6 L1287.0,181.6 L1289.0,181.5 L1291.0,181.5 L1293.0,181.4 L1295.0,181.4 L1297.0,181.3 L1299.0,181.3 L1301.0,181.2 L1303.0,181.2 L1305.0,181.1 L1307.0,181.1 L1309.0,181.0 L1311.0,181.0 L1313.0,180.9 L1315.0,180.8 L1317.0,180.8 L1319.0,180.7 L1321.0,180.7 L1322.9,180.6 L1324.9,180.5 L1326.9,180.5 L1328.9,180.4 L1330.9,180.3 L1332.9,180.2 L1334.9,180.2 L1336.9,180.1 L1338.9,180.0 L1340.9,180.0 L1342.9,179.9 L1344.9,179.8 L1346.9,179.7 L1348.9,179.7 L1350.9,179.6 L1352.9,179.5 L1354.9,179.4 L1356.9,179.4 L1358.9,179.3 L1360.9,179.2 L1362.9,179.1 L1364.9,179.0 L1366.9,179.0 L1368.9,178.9 L1370.9,178.8 L1372.9,178.7 L1374.9,178.6 L1376.9,178.6 L1378.9,178.5 L1380.9,178.4 L1382.9,178.3 L1384.9,178.2 L1386.9,178.2 L1388.9,178.1 L1390.9,178.0 L1392.9,177.9 L1394.9,177.8 L1396.9,177.8 L1398.9,177.7 L1400.9,177.6 L1402.9,177.5 L1404.9,177.4 L1406.9,177.3 L1408.9,177.3 L1410.9,177.2 L1412.9,177.1 L1414.9,177.0 L1416.9,177.0 L1418.9,176.9 L1420.9,176.8 L1422.9,176.7 L1424.9,176.6 L1426.9,176.6 L1428.9,176.5 L1430.9,176.4 L1432.9,176.3 L1434.9,176.2 L1436.9,176.2 L1438.9,176.1 L1440.9,176.0 L1442.9,175.9 L1444.9,175.8 L1446.9,175.8 L1448.9,175.7 L1450.9,175.6 L1452.8,175.5 L1454.8,175.5 L1456.8,175.4 L1458.8,175.3 L1460.8,175.2 L1462.8,175.2 L1464.8,175.1 L1466.8,175.0 L1468.8,174.9 L1470.8,174.8 L1472.8,174.8 L1474.8,174.7 L1476.8,174.6 L1478.8,174.5 L1480.8,174.5 L1482.8,174.4 L1484.8,174.3 L1486.8,174.2 L1488.8,174.2 L1490.8,174.1 L1492.8,174.0 L1494.8,173.9 L1496.8,173.9 L1498.8,173.8 L1500.8,173.7 L1502.8,173.6 L1504.8,173.6 L1506.8,173.5 L1508.8,173.4 L1510.8,173.3 L1512.8,173.3 L1514.8,173.2 L1516.8,173.1 L1518.8,173.1 L1520.8,173.0 L1522.8,172.9 L1524.8,172.8 L1526.8,172.8 L1528.8,172.7 L1530.8,172.6 L1532.8,172.5 L1534.8,172.5 L1536.8,172.4 L1538.8,172.3 L1540.8,172.3 L1542.8,172.2 L1544.8,172.1 L1546.8,172.0 L1548.8,172.0 L1550.8,171.9 L1552.8,171.8 L1554.8,171.8 L1556.8,171.7 L1558.8,171.6 L1560.8,171.6 L1562.8,171.5 L1564.8,171.4 L1566.8,171.3 L1568.8,171.3 L1570.8,171.2 L1572.8,171.1 L1574.8,171.1 L1576.8,171.0 L1578.8,170.9 L1580.8,170.9 L1582.8,170.8 L1584.8,170.7 L1586.8,170.7 L1588.8,170.6 L1590.8,170.5 L1592.8,170.5 L1594.8,170.4 L1596.8,170.3 L1598.8,170.3 L1600.8,170.2 L1602.8,170.1 L1604.8,170.1 L1606.8,170.0 L1608.7,169.9 L1610.7,169.9 L1612.7,169.8 L1614.7,169.7 L1616.7,169.7 L1618.7,169.6 L1620.7,169.5 L1622.7,169.5 L1624.7,169.4 L1626.7,169.4 L1628.7,169.3 L1630.7,169.2 L1632.7,169.2 L1634.7,169.1 L1636.7,169.0 L1638.7,169.0 L1640.7,168.9 L1642.7,168.9 L1644.7,168.8 L1646.7,168.7 L1648.7,168.7 L1650.7,168.6 L1652.7,168.5 L1654.7,168.5 L1656.7,168.4 L1658.7,168.4 L1660.7,168.3 L1662.7,168.2 L1664.7,168.2 L1666.7,168.1 L1668.7,168.1 L1670.7,168.0 L1672.7,167.9 L1674.7,167.9 L1676.7,167.8 L1678.7,167.8 L1680.7,167.7 L1682.7,167.7 L1684.7,167.6 L1686.7,167.5 L1688.7,167.5 L1690.7,167.4 L1692.7,167.4 L1694.7,167.3 L1696.7,167.3 L1698.7,167.2 L1700.7,167.1 L1702.7,167.1 L1704.7,167.0 L1706.7,167.0 L1708.7,166.9 L1710.7,166.9 L1712.7,166.8 L1714.7,166.8 L1716.7,166.7 L1718.7,166.7 L1720.7,166.6 L1722.7,166.5 L1724.7,166.5 L1726.7,166.4 L1728.7,166.4 L1730.7,166.3 L1732.7,166.3 L1734.7,166.2 L1736.7,166.2 L1738.7,166.1 L1740.7,166.1 L1742.7,166.0 L1744.7,166.0 L1746.7,165.9 L1748.7,165.9 L1750.7,165.8 L1752.7,165.8 L1754.7,165.7 L1756.7,165.7 L1758.7,165.6 L1760.7,165.6 L1762.7,165.5 L1764.7,165.5 L1766.7,165.4 L1768.7,165.4 L1770.7,165.3 L1772.7,165.3 L1774.7,165.3 L1776.7,165.2 L1778.7,165.2 L1780.7,165.1 L1782.7,165.1 L1784.7,165.0 L1786.7,165.0 L1788.7,164.9 L1790.7,164.9 L1792.7,164.8 L1794.7,164.8 L1796.7,164.8 L1798.7,164.7 L1800.7,164.7 L1802.7,164.6 L1804.7,164.6 L1806.7,164.5 L1808.7,164.5 L1810.7,164.5 L1812.7,164.4 L1814.7,164.4 L1816.7,164.3 L1818.7,164.3 L1820.7,164.3 L1822.7,164.2 L1824.7,164.2 L1826.7,164.1 L1828.7,164.1 L1830.7,164.1 L1832.7,164.0 L1834.7,164.0 L1836.7,164.0 L1838.7,163.9 L1840.7,163.9 L1842.7,163.8 L1844.7,163.8 L1846.7,163.8 L1848.7,163.7 L1850.7,163.7 L1852.7,163.7 L1854.7,163.6 L1855.0,163.6"/>
<line x1="1194.5" y1="62.1" x2="1194.5" y2="1278" stroke="#000" stroke-width="7" stroke-dasharray="21.7 31.27" stroke-linecap="round"/>
<path stroke="#008000" d="M105.0,405.4 L107.0,405.3 L109.0,405.2 L111.0,405.1 L113.0,405.0 L115.0,404.8 L117.0,404.7 L119.0,404.6 L121.0,404.5 L123.0,404.4 L125.0,404.3 L127.0,404.2 L129.0,404.1 L131.0,403.9 L133.0,403.8 L135.0,403.7 L136.9,403.6 L138.9,403.5 L140.9,403.4 L142.9,403.3 L144.9,403.1 L146.9,403.0 L148.9,402.9 L150.9,402.8 L152.9,402.7 L154.9,402.6 L156.9,402.5 L158.9,402.3 L160.9,402.2 L162.9,402.1 L164.9,402.0 L166.9,401.9 L168.9,401.8 L170.9,401.7 L172.9,401.5 L174.9,401.4 L176.9,401.3 L178.9,401.2 L180.9,401.1 L182.9,401.0 L184.9,400.8 L186.9,400.7 L188.9,400.6 L190.9,400.5 L192.9,400.4 L194.9,400.3 L196.9,400.2 L198.8,400.0 L200.8,399.9 L202.8,399.8 L204.8,399.7 L206.8,399.6 L208.8,399.5 L210.8,399.4 L212.8,399.2 L214.8,399.1 L216.8,399.0 L218.8,398.9 L220.8,398.8 L222.8,398.7 L224.8,398.5 L226.8,398.4 L228.8,398.3 L230.8,398.2 L232.8,398.1 L234.8,398.0 L236.8,397.8 L238.8,397.7 L240.8,397.6 L242.8,397.5 L244.8,397.4 L246.8,397.3 L248.8,397.1 L250.8,397.0 L252.8,396.9 L254.8,396.8 L256.7,396.7 L258.7,396.6 L260.7,396.4 L262.7,396.3 L264.7,396.2 L266.7,396.1 L268.7,396.0 L270.7,395.8 L272.7,395.7 L274.7,395.6 L276.7,395.5 L278.7,395.4 L280.7,395.3 L282.7,395.1 L284.7,395.0 L286.7,394.9 L288.7,394.8 L290.7,394.7 L292.7,394.5 L294.7,394.4 L296.7,394.3 L298.7,394.2 L300.7,394.1 L302.7,393.9 L304.7,393.8 L306.7,393.7 L308.7,393.6 L310.7,393.5 L312.6,393.3 L314.6,393.2 L316.6,393.1 L318.6,393.0 L320.6,392.9 L322.6,392.7 L324.6,392.6 L326.6,392.5 L328.6,392.4 L330.6,392.2 L332.6,392.1 L334.6,392.0 L336.6,391.9 L338.6,391.7 L340.6,391.6 L342.6,391.5 L344.6,391.4 L346.6,391.3 L348.6,391.1 L350.6,391.0 L352.6,390.9 L354.6,390.8 L356.6,390.6 L358.6,390.5 L360.6,390.4 L362.6,390.3 L364.6,390.1 L366.5,390.0 L368.5,389.9 L370.5,389.8 L372.5,389.6 L374.5,389.5 L376.5,389.4 L378.5,389.3 L380.5,389.1 L382.5,389.0 L384.5,388.9 L386.5,388.7 L388.5,388.6 L390.5,388.5 L392.5,388.4 L394.5,388.2 L396.5,388.1 L398.5,388.0 L400.5,387.8 L402.5,387.7 L404.5,387.6 L406.5,387.5 L408.5,387.3 L410.5,387.2 L412.5,387.1 L414.4,386.9 L416.4,386.8 L418.4,386.7 L420.4,386.5 L422.4,386.4 L424.4,386.3 L426.4,386.2 L428.4,386.0 L430.4,385.9 L432.4,385.8 L434.4,385.6 L436.4,385.5 L438.4,385.4 L440.4,385.2 L442.4,385.1 L444.4,385.0 L446.4,384.8 L448.4,384.7 L450.4,384.6 L452.4,384.4 L454.4,384.3 L456.4,384.2 L458.4,384.0 L460.3,383.9 L462.3,383.8 L464.3,383.6 L466.3,383.5 L468.3,383.4 L470.3,383.2 L472.3,383.1 L474.3,382.9 L476.3,382.8 L478.3,382.7 L480.3,382.5 L482.3,382.4 L484.3,382.3 L486.3,382.1 L488.3,382.0 L490.3,381.9 L492.3,381.7 L494.3,381.6 L496.3,381.4 L498.3,381.3 L500.3,381.2 L502.2,381.0 L504.2,380.9 L506.2,380.7 L508.2,380.6 L510.2,380.5 L512.2,380.3 L514.2,380.2 L516.2,380.1 L518.2,379.9 L520.2,379.8 L522.2,379.6 L524.2,379.5 L526.2,379.4 L528.2,379.2 L530.2,379.1 L532.2,378.9 L534.2,378.8 L536.2,378.6 L538.2,378.5 L540.2,378.4 L542.1,378.2 L544.1,378.1 L546.1,377.9 L548.1,377.8 L550.1,377.7 L552.1,377.5 L554.1,377.4 L556.1,377.2 L558.1,377.1 L560.1,376.9 L562.1,376.8 L564.1,376.7 L566.1,376.5 L568.1,376.4 L570.1,376.2 L572.1,376.1 L574.1,375.9 L576.1,375.8 L578.1,375.7 L580.1,375.5 L582.0,375.4 L584.0,375.2 L586.0,375.1 L588.0,374.9 L590.0,374.8 L592.0,374.6 L594.0,374.5 L596.0,374.3 L598.0,374.2 L600.0,374.1 L602.0,373.9 L604.0,373.8 L606.0,373.6 L608.0,373.5 L610.0,373.3 L612.0,373.2 L614.0,373.0 L616.0,372.9 L618.0,372.7 L619.9,372.6 L621.9,372.4 L623.9,372.3 L625.9,372.2 L627.9,372.0 L629.9,371.9 L631.9,371.7 L633.9,371.6 L635.9,371.4 L637.9,371.3 L639.9,371.1 L641.9,371.0 L643.9,370.8 L645.9,370.7 L647.9,370.5 L649.9,370.4 L651.9,370.2 L653.9,370.1 L655.8,369.9 L657.8,369.8 L659.8,369.6 L661.8,369.5 L663.8,369.3 L665.8,369.2 L667.8,369.0 L669.8,368.9 L671.8,368.7 L673.8,368.6 L675.8,368.4 L677.8,368.3 L679.8,368.2 L681.8,368.0 L683.8,367.9 L685.8,367.7 L687.8,367.6 L689.8,367.4 L691.7,367.3 L693.7,367.1 L695.7,367.0 L697.7,366.8 L699.7,366.7 L701.7,366.5 L703.7,366.4 L705.7,366.2 L707.7,366.1 L709.7,365.9 L711.7,365.8 L713.7,365.6 L715.7,365.5 L717.7,365.4 L719.7,365.2 L721.7,365.1 L723.7,364.9 L725.7,364.8 L727.7,364.6 L729.6,364.5 L731.6,364.3 L733.6,364.2 L735.6,364.1 L737.6,363.9 L739.6,363.8 L741.6,363.6 L743.6,363.5 L745.6,363.3 L747.6,363.2 L749.6,363.1 L751.6,362.9 L753.6,362.8 L755.6,362.6 L757.6,362.5 L759.6,362.4 L761.6,362.2 L763.6,362.1 L765.6,361.9 L767.5,361.8 L769.5,361.7 L771.5,361.5 L773.5,361.4 L775.5,361.3 L777.5,361.1 L779.5,361.0 L781.5,360.8 L783.5,360.7 L785.5,360.6 L787.5,360.4 L789.5,360.3 L791.5,360.1 L793.5,360.0 L795.5,359.8 L797.5,359.7 L799.5,359.5 L801.5,359.4 L803.5,359.2 L805.4,359.1 L807.4,358.9 L809.4,358.7 L811.4,358.6 L813.4,358.4 L815.4,358.2 L817.4,358.1 L819.4,357.9 L821.4,357.7 L823.4,357.5 L825.4,357.3 L827.4,357.1 L829.4,357.0 L831.4,356.8 L833.3,356.6 L835.3,356.4 L837.3,356.2 L839.3,356.0 L841.3,355.8 L843.3,355.6 L845.3,355.4 L847.3,355.2 L849.3,355.0 L851.3,354.8 L853.2,354.6 L855.2,354.4 L857.2,354.2 L859.2,354.0 L861.2,353.8 L863.2,353.6 L865.2,353.4 L867.2,353.2 L869.2,353.0 L871.2,352.9 L873.2,352.7 L875.1,352.5 L877.1,352.3 L879.1,352.1 L881.1,351.9 L883.1,351.7 L885.1,351.6 L887.1,351.4 L889.1,351.2 L891.1,351.0 L893.1,350.8 L895.0,350.6 L897.0,350.4 L899.0,350.2 L901.0,350.1 L903.0,349.9 L905.0,349.7 L907.0,349.5 L909.0,349.3 L911.0,349.1 L913.0,348.9 L914.9,348.7 L916.9,348.5 L918.9,348.3 L920.9,348.1 L922.9,347.9 L924.9,347.6 L926.9,347.4 L928.9,347.2 L930.9,347.0 L932.9,346.7 L934.8,346.5 L936.8,346.3 L938.8,346.0 L940.8,345.8 L942.8,345.5 L944.8,345.2 L946.8,345.0 L948.7,344.7 L950.7,344.4 L952.7,344.1 L954.7,343.8 L956.7,343.5 L958.6,343.2 L960.6,342.9 L962.6,342.5 L964.5,342.2 L966.5,341.8 L968.5,341.5 L970.4,341.1 L972.4,340.7 L974.4,340.3 L976.3,339.9 L978.3,339.5 L980.2,339.1 L982.2,338.7 L984.1,338.2 L986.1,337.8 L988.0,337.3 L989.9,336.9 L991.9,336.4 L993.8,335.9 L995.8,335.4 L997.7,334.9 L999.6,334.4 L1001.6,333.9 L1003.5,333.4 L1005.4,332.9 L1007.4,332.3 L1009.3,331.8 L1011.2,331.2 L1013.1,330.7 L1015.0,330.1 L1017.0,329.6 L1018.9,329.0 L1020.8,328.4 L1022.7,327.8 L1024.6,327.3 L1026.5,326.7 L1028.5,326.1 L1030.4,325.5 L1032.3,324.9 L1034.2,324.2 L1036.1,323.6 L1038.0,323.0 L1039.9,322.4 L1041.8,321.7 L1043.7,321.0 L1045.6,320.4 L1047.4,319.7 L1049.3,319.0 L1051.2,318.2 L1053.0,317.5 L1054.9,316.7 L1056.7,315.9 L1058.5,315.1 L1060.3,314.3 L1062.1,313.5 L1063.9,312.6 L1065.7,311.7 L1067.5,310.7 L1069.2,309.8 L1071.0,308.8 L1072.7,307.8 L1074.4,306.8 L1076.1,305.8 L1077.8,304.7 L1079.4,303.6 L1081.1,302.5 L1082.8,301.3 L1084.4,300.2 L1086.0,299.0 L1087.6,297.8 L1089.2,296.6 L1090.8,295.3 L1092.3,294.1 L1093.9,292.8 L1095.5,291.5 L1097.0,290.2 L1098.5,288.9 L1100.1,287.7 L1101.6,286.4 L1103.1,285.1 L1104.7,283.8 L1106.2,282.5 L1107.7,281.2 L1109.2,279.9 L1110.8,278.6 L1112.3,277.3 L1113.8,276.1 L1115.3,274.8 L1116.8,273.5 L1118.3,272.1 L1119.8,270.8 L1121.3,269.5 L1122.8,268.2 L1124.3,266.8 L1125.7,265.5 L1127.2,264.1 L1128.7,262.8 L1130.1,261.4 L1131.5,260.0 L1133.0,258.6 L1134.4,257.2 L1135.8,255.7 L1137.2,254.3 L1138.6,252.8 L1140.0,251.3 L1141.4,249.8 L1142.7,248.3 L1144.1,246.8 L1145.5,245.4 L1147.1,244.2 L1148.7,243.3 L1150.5,242.6 L1152.4,242.2 L1154.4,241.9 L1156.4,241.7 L1158.5,241.6 L1160.6,241.6 L1162.7,241.7 L1164.7,241.9 L1166.8,242.2 L1168.7,242.6 L1170.6,243.1 L1172.5,243.7 L1174.3,244.5 L1176.1,245.3 L1177.8,246.2 L1179.5,247.2 L1181.1,248.2 L1182.7,249.3 L1184.3,250.5 L1185.9,251.8 L1187.4,253.1 L1188.9,254.5 L1190.3,255.9 L1191.7,257.3 L1193.2,258.8 L1194.5,260.2 L1195.9,261.8 L1197.3,263.3 L1198.6,264.8 L1199.9,266.4 L1201.2,267.9 L1202.5,269.5 L1203.8,271.0 L1205.1,272.6 L1206.3,274.1 L1207.6,275.7 L1208.8,277.2 L1210.1,278.8 L1211.3,280.3 L1212.6,281.9 L1213.8,283.4 L1215.0,285.0 L1216.3,286.6 L1217.5,288.1 L1218.7,289.7 L1220.0,291.2 L1221.2,292.8 L1222.4,294.3 L1223.7,295.9 L1224.9,297.4 L1226.2,298.9 L1227.5,300.5 L1228.8,302.0 L1230.0,303.5 L1231.3,305.1 L1232.7,306.6 L1234.0,308.1 L1235.3,309.6 L1236.7,311.1 L1238.1,312.5 L1239.5,314.0 L1240.9,315.5 L1242.4,316.9 L1243.8,318.3 L1245.4,319.7 L1246.9,321.0 L1248.5,322.2 L1250.1,323.4 L1251.8,324.4 L1253.6,325.3 L1255.4,326.1 L1257.2,326.8 L1259.1,327.2 L1261.1,327.6 L1263.1,327.8 L1265.1,328.0 L1267.1,328.1 L1269.2,328.1 L1271.2,328.1 L1273.3,328.1 L1275.3,328.1 L1277.3,328.1 L1279.3,328.1 L1281.3,328.0 L1283.3,328.0 L1285.3,327.9 L1287.3,327.8 L1289.3,327.8 L1291.3,327.7 L1293.2,327.7 L1295.2,327.6 L1297.2,327.5 L1299.2,327.5 L1301.2,327.4 L1303.2,327.3 L1305.2,327.3 L1307.2,327.2 L1309.2,327.1 L1311.2,327.1 L1313.2,327.0 L1315.2,326.9 L1317.2,326.9 L1319.2,326.8 L1321.2,326.8 L1323.2,326.7 L1325.2,326.6 L1327.2,326.6 L1329.2,326.5 L1331.2,326.4 L1333.2,326.4 L1335.2,326.3 L1337.2,326.3 L1339.2,326.2 L1341.2,326.1 L1343.2,326.1 L1345.2,326.0 L1347.2,325.9 L1349.2,325.9 L1351.2,325.8 L1353.2,325.8 L1355.2,325.7 L1357.2,325.6 L1359.2,325.6 L1361.2,325.5 L1363.2,325.4 L1365.2,325.4 L1367.2,325.3 L1369.2,325.2 L1371.2,325.2 L1373.2,325.1 L1375.2,325.1 L1377.2,325.0 L1379.2,324.9 L1381.2,324.9 L1383.2,324.8 L1385.2,324.7 L1387.2,324.7 L1389.2,324.6 L1391.2,324.5 L1393.2,324.5 L1395.2,324.4 L1397.2,324.3 L1399.2,324.3 L1401.2,324.2 L1403.2,324.1 L1405.2,324.1 L1407.2,324.0 L1409.2,324.0 L1411.2,323.9 L1413.2,323.8 L1415.2,323.8 L1417.2,323.7 L1419.2,323.6 L1421.2,323.6 L1423.2,323.5 L1425.1,323.4 L1427.1,323.4 L1429.1,323.3 L1431.1,323.2 L1433.1,323.2 L1435.1,323.1 L1437.1,323.0 L1439.1,323.0 L1441.1,322.9 L1443.1,322.8 L1445.1,322.8 L1447.1,322.7 L1449.1,322.6 L1451.1,322.6 L1453.1,322.5 L1455.1,322.4 L1457.1,322.4 L1459.1,322.3 L1461.1,322.2 L1463.1,322.2 L1465.1,322.1 L1467.1,322.0 L1469.1,322.0 L1471.1,321.9 L1473.1,321.8 L1475.1,321.8 L1477.1,321.7 L1479.1,321.6 L1481.1,321.6 L1483.1,321.5 L1485.1,321.4 L1487.1,321.4 L1489.1,321.3 L1491.1,321.2 L1493.1,321.2 L1495.1,321.1 L1497.1,321.0 L1499.1,320.9 L1501.1,320.9 L1503.1,320.8 L1505.1,320.7 L1507.1,320.7 L1509.1,320.6 L1511.1,320.5 L1513.1,320.5 L1515.1,320.4 L1517.1,320.3 L1519.1,320.3 L1521.1,320.2 L1523.1,320.1 L1525.1,320.1 L1527.1,320.0 L1529.1,319.9 L1531.1,319.9 L1533.1,319.8 L1535.1,319.7 L1537.1,319.6 L1539.1,319.6 L1541.1,319.5 L1543.1,319.4 L1545.1,319.4 L1547.1,319.3 L1549.1,319.2 L1551.1,319.2 L1553.1,319.1 L1555.1,319.0 L1557.1,319.0 L1559.1,318.9 L1561.1,318.8 L1563.1,318.7 L1565.1,318.7 L1567.1,318.6 L1569.1,318.5 L1571.1,318.5 L1573.1,318.4 L1575.1,318.3 L1577.1,318.3 L1579.1,318.2 L1581.1,318.1 L1583.1,318.1 L1585.1,318.0 L1587.1,317.9 L1589.1,317.8 L1591.1,317.8 L1593.1,317.7 L1595.1,317.6 L1597.1,317.6 L1599.0,317.5 L1601.0,317.4 L1603.0,317.4 L1605.0,317.3 L1607.0,317.2 L1609.0,317.1 L1611.0,317.1 L1613.0,317.0 L1615.0,316.9 L1617.0,316.9 L1619.0,316.8 L1621.0,316.7 L1623.0,316.6 L1625.0,316.6 L1627.0,316.5 L1629.0,316.4 L1631.0,316.4 L1633.0,316.3 L1635.0,316.2 L1637.0,316.2 L1639.0,316.1 L1641.0,316.0 L1643.0,315.9 L1645.0,315.9 L1647.0,315.8 L1649.0,315.7 L1651.0,315.7 L1653.0,315.6 L1655.0,315.5 L1657.0,315.4 L1659.0,315.4 L1661.0,315.3 L1663.0,315.2 L1665.0,315.2 L1667.0,315.1 L1669.0,315.0 L1671.0,315.0 L1673.0,314.9 L1675.0,314.8 L1677.0,314.7 L1679.0,314.7 L1681.0,314.6 L1683.0,314.5 L1685.0,314.5 L1687.0,314.4 L1689.0,314.3 L1691.0,314.2 L1693.0,314.2 L1695.0,314.1 L1697.0,314.0 L1699.0,314.0 L1701.0,313.9 L1703.0,313.8 L1705.0,313.7 L1707.0,313.7 L1709.0,313.6 L1711.0,313.5 L1713.0,313.5 L1715.0,313.4 L1717.0,313.3 L1719.0,313.2 L1721.0,313.2 L1723.0,313.1 L1725.0,313.0 L1727.0,313.0 L1729.0,312.9 L1731.0,312.8 L1733.0,312.7 L1735.0,312.7 L1737.0,312.6 L1739.0,312.5 L1741.0,312.5 L1743.0,312.4 L1745.0,312.3 L1747.0,312.2 L1749.0,312.2 L1751.0,312.1 L1752.9,312.0 L1754.9,312.0 L1756.9,311.9 L1758.9,311.8 L1760.9,311.7 L1762.9,311.7 L1764.9,311.6 L1766.9,311.5 L1768.9,311.5 L1770.9,311.4 L1772.9,311.3 L1774.9,311.2 L1776.9,311.2 L1778.9,311.1 L1780.9,311.0 L1782.9,311.0 L1784.9,310.9 L1786.9,310.8 L1788.9,310.7 L1790.9,310.7 L1792.9,310.6 L1794.9,310.5 L1796.9,310.5 L1798.9,310.4 L1800.9,310.3 L1802.9,310.2 L1804.9,310.2 L1806.9,310.1 L1808.9,310.0 L1810.9,310.0 L1812.9,309.9 L1814.9,309.8 L1816.9,309.7 L1818.9,309.7 L1820.9,309.6 L1822.9,309.5 L1824.9,309.5 L1826.9,309.4 L1828.9,309.3 L1830.9,309.2 L1832.9,309.2 L1834.9,309.1 L1836.9,309.0 L1838.9,309.0 L1840.9,308.9 L1842.9,308.8 L1844.9,308.7 L1846.9,308.7 L1848.9,308.6 L1850.9,308.5 L1852.9,308.5 L1854.9,308.4 L1855.0,308.4"/>
</g>
<g stroke="#000" stroke-width="6" stroke-linecap="round">
<line x1="229.7" y1="1269" x2="229.7" y2="1280"/><line x1="336.9" y1="1258" x2="336.9" y2="1280"/><line x1="444.2" y1="1269" x2="444.2" y2="1280"/><line x1="551.4" y1="1258" x2="551.4" y2="1280"/><line x1="658.6" y1="1269" x2="658.6" y2="1280"/><line x1="765.8" y1="1258" x2="765.8" y2="1280"/><line x1="873.0" y1="1269" x2="873.0" y2="1280"/><line x1="980.2" y1="1258" x2="980.2" y2="1280"/><line x1="1087.5" y1="1269" x2="1087.5" y2="1280"/><line x1="1194.7" y1="1258" x2="1194.7" y2="1280"/><line x1="1301.9" y1="1269" x2="1301.9" y2="1280"/><line x1="1409.1" y1="1258" x2="1409.1" y2="1280"/><line x1="1516.3" y1="1269" x2="1516.3" y2="1280"/><line x1="1623.6" y1="1258" x2="1623.6" y2="1280"/><line x1="1730.8" y1="1269" x2="1730.8" y2="1280"/>
</g>
<g class="t" transform="translate(0,1344) scale(1,1.0625) translate(0,-1344)"><text x="123.1" y="1344">0</text><text x="337.5" y="1344">20</text><text x="552.0" y="1344">40</text><text x="766.4" y="1344">60</text><text x="980.9" y="1344">80</text><text x="1195.3" y="1344">100</text><text x="1409.7" y="1344">120</text><text x="1624.2" y="1344">140</text><text x="1838.6" y="1344">160</text></g>
<g class="s" font-size="59.5" letter-spacing="-1.5">
<text x="1540" y="155">PVPh-50</text>
<text x="1545" y="298">PVPh-40</text>
<text x="1545" y="464">PVPh-30</text>
<text x="1553" y="628">PVPh-20</text>
<text x="1545" y="798">PVPh-10</text>
<text x="1559" y="1067">PVPh-0</text>
</g>
<text class="s" x="785" y="1435" font-size="59.5" letter-spacing="-1.4">Temperature (</text>
<text x="1105.4" y="1434" font-size="53" font-family="'Liberation Serif','Noto Serif CJK SC',serif">℃</text>
<text class="s" x="1158" y="1435" font-size="59.5">)</text>
<text class="s" font-size="59.5" letter-spacing="-0.6" transform="translate(57,954) rotate(-90)">Heatflow Endo Down</text>
</svg>
</body></html>
